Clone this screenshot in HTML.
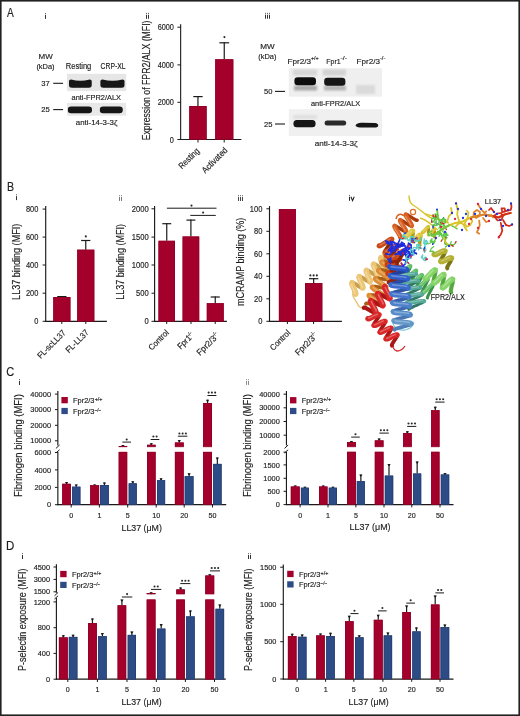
<!DOCTYPE html>
<html><head><meta charset="utf-8"><style>
html,body{margin:0;padding:0;background:#fff;}
svg{display:block;will-change:transform;}
text{font-family:"Liberation Sans",sans-serif;fill:#1e1e1e;stroke:#1e1e1e;stroke-width:0.16px;}
</style></head><body>
<svg width="520" height="716" viewBox="0 0 520 716">
<defs>
<filter id="blur1" x="-20%" y="-50%" width="140%" height="200%"><feGaussianBlur stdDeviation="0.7"/></filter>
<filter id="blur05" x="-5%" y="-5%" width="110%" height="110%"><feGaussianBlur stdDeviation="0.35"/></filter>
<filter id="blur2" x="-20%" y="-20%" width="140%" height="140%"><feGaussianBlur stdDeviation="1.2"/></filter>
</defs>
<rect width="520" height="716" fill="#fff"/>
<rect x="0.8" y="0.8" width="518.4" height="714.4" fill="none" stroke="#222" stroke-width="1.6"/>
<text x="6.90" y="16.70" font-size="12.2" textLength="6.80" lengthAdjust="spacingAndGlyphs">A</text>
<rect x="45" y="14.90" width="1.0" height="4.0" fill="#333"/>
<rect x="45" y="13.00" width="1.0" height="1.1" fill="#333" opacity="0.75"/>
<text x="38.60" y="59.10" font-size="7.8" textLength="14.20" lengthAdjust="spacingAndGlyphs">MW</text>
<text x="36.40" y="68.80" font-size="7.8" textLength="18.20" lengthAdjust="spacingAndGlyphs">(kDa)</text>
<text x="65.80" y="69.00" font-size="8.5" textLength="25.50" lengthAdjust="spacingAndGlyphs">Resting</text>
<text x="100.60" y="69.00" font-size="8.5" textLength="25.00" lengthAdjust="spacingAndGlyphs">CRP-XL</text>
<text x="41.20" y="86.00" font-size="7.4" textLength="8.50" lengthAdjust="spacingAndGlyphs">37</text>
<line x1="53.20" y1="83.30" x2="63.10" y2="83.30" stroke="#1a1a1a" stroke-width="1.1"/>
<text x="41.20" y="112.40" font-size="7.4" textLength="8.50" lengthAdjust="spacingAndGlyphs">25</text>
<line x1="53.20" y1="109.60" x2="63.10" y2="109.60" stroke="#1a1a1a" stroke-width="1.1"/>
<text x="71.50" y="99.90" font-size="7.8" textLength="49.50" lengthAdjust="spacingAndGlyphs">anti-FPR2/ALX</text>
<text x="75.80" y="124.70" font-size="7.8" textLength="41.60" lengthAdjust="spacingAndGlyphs">anti-14-3-3ζ</text>
<rect x="67.00" y="73.80" width="59.20" height="17.30" fill="#e6e6e6"/>
<rect x="67.00" y="102.80" width="59.20" height="12.90" fill="#e8e8e8"/>
<g filter="url(#blur1)">
<path d="M69.0 80.9 Q69.0 79.4 71.0 79.4 Q80.3 82.0 89.7 79.4 Q91.7 79.4 91.7 80.9 L91.7 85.3 Q91.7 87.8 88.7 87.8 L72.0 87.8 Q69.0 87.8 69.0 85.3 Z" fill="#141414"/>
<path d="M100.4 80.9 Q100.4 79.4 102.4 79.4 Q112.5 82.0 122.5 79.4 Q124.5 79.4 124.5 80.9 L124.5 85.3 Q124.5 87.8 121.5 87.8 L103.4 87.8 Q100.4 87.8 100.4 85.3 Z" fill="#141414"/>
<rect x="67.8" y="106.6" width="24.2" height="6.7" rx="3.3" fill="#121212"/>
<rect x="99.8" y="106.6" width="23.0" height="6.7" rx="3.3" fill="#121212"/>
</g>
<line x1="180.65" y1="24.30" x2="180.65" y2="140.00" stroke="#1a1a1a" stroke-width="1.1"/>
<line x1="180.15" y1="139.50" x2="241.40" y2="139.50" stroke="#1a1a1a" stroke-width="1.1"/>
<line x1="177.45" y1="27.20" x2="180.65" y2="27.20" stroke="#1a1a1a" stroke-width="1.0"/>
<line x1="177.45" y1="64.90" x2="180.65" y2="64.90" stroke="#1a1a1a" stroke-width="1.0"/>
<line x1="177.45" y1="102.30" x2="180.65" y2="102.30" stroke="#1a1a1a" stroke-width="1.0"/>
<line x1="177.45" y1="139.50" x2="180.65" y2="139.50" stroke="#1a1a1a" stroke-width="1.0"/>
<text x="173.95" y="30.20" font-size="8.51" text-anchor="end" textLength="16.32" lengthAdjust="spacingAndGlyphs">6000</text>
<text x="173.95" y="67.90" font-size="8.51" text-anchor="end" textLength="16.32" lengthAdjust="spacingAndGlyphs">4000</text>
<text x="173.95" y="105.30" font-size="8.51" text-anchor="end" textLength="16.32" lengthAdjust="spacingAndGlyphs">2000</text>
<text x="173.95" y="142.50" font-size="8.51" text-anchor="end" textLength="4.08" lengthAdjust="spacingAndGlyphs">0</text>
<line x1="197.95" y1="106.00" x2="197.95" y2="96.00" stroke="#1a1a1a" stroke-width="1.2"/>
<line x1="193.28" y1="96.60" x2="202.62" y2="96.60" stroke="#1a1a1a" stroke-width="1.2"/>
<rect x="189.30" y="106.00" width="17.30" height="33.50" fill="#A3002C"/>
<rect x="189.65" y="106.35" width="16.60" height="33.15" fill="none" stroke="#8f0026" stroke-width="0.7"/>
<line x1="224.25" y1="59.30" x2="224.25" y2="42.20" stroke="#1a1a1a" stroke-width="1.2"/>
<line x1="219.36" y1="42.80" x2="229.14" y2="42.80" stroke="#1a1a1a" stroke-width="1.2"/>
<rect x="215.20" y="59.30" width="18.10" height="80.20" fill="#A3002C"/>
<rect x="215.55" y="59.65" width="17.40" height="79.85" fill="none" stroke="#8f0026" stroke-width="0.7"/>
<line x1="198.00" y1="139.50" x2="198.00" y2="142.50" stroke="#1a1a1a" stroke-width="1.0"/>
<line x1="224.20" y1="139.50" x2="224.20" y2="142.50" stroke="#1a1a1a" stroke-width="1.0"/>
<circle cx="224.40" cy="37.10" r="1.05" fill="#2a2a2a"/>
<text x="150.04" y="80.40" font-size="10.3" text-anchor="middle" textLength="119.80" lengthAdjust="spacingAndGlyphs" transform="rotate(-90 150.04 80.40)">Expression of FPR2/ALX (MFI)</text>
<rect x="146" y="14.80" width="1.0" height="4.0" fill="#333"/>
<rect x="146" y="12.90" width="1.0" height="1.1" fill="#333" opacity="0.75"/>
<rect x="148" y="14.80" width="1.0" height="4.0" fill="#333"/>
<rect x="148" y="12.90" width="1.0" height="1.1" fill="#333" opacity="0.75"/>
<text x="200.00" y="151.50" font-size="8.8" text-anchor="end" textLength="25.50" lengthAdjust="spacingAndGlyphs" transform="rotate(-45 200.00 151.50)">Resting</text>
<text x="228.00" y="151.00" font-size="8.8" text-anchor="end" textLength="32.00" lengthAdjust="spacingAndGlyphs" transform="rotate(-45 228.00 151.00)">Activated</text>
<rect x="265" y="14.70" width="1.0" height="4.0" fill="#333"/>
<rect x="265" y="12.80" width="1.0" height="1.1" fill="#333" opacity="0.75"/>
<rect x="267" y="14.70" width="1.0" height="4.0" fill="#333"/>
<rect x="267" y="12.80" width="1.0" height="1.1" fill="#333" opacity="0.75"/>
<rect x="269" y="14.70" width="1.0" height="4.0" fill="#333"/>
<rect x="269" y="12.80" width="1.0" height="1.1" fill="#333" opacity="0.75"/>
<text x="260.20" y="49.30" font-size="8.0" textLength="14.40" lengthAdjust="spacingAndGlyphs">MW</text>
<text x="258.20" y="59.20" font-size="8.0" textLength="18.20" lengthAdjust="spacingAndGlyphs">(kDa)</text>
<text x="287.40" y="63.70" font-size="8.1" textLength="23.60" lengthAdjust="spacingAndGlyphs">Fpr2/3</text>
<text x="310.90" y="60.30" font-size="5.2" textLength="7.80" lengthAdjust="spacingAndGlyphs">+/+</text>
<text x="326.30" y="63.70" font-size="8.1" textLength="14.40" lengthAdjust="spacingAndGlyphs">Fpr1</text>
<text x="340.60" y="60.30" font-size="5.2" textLength="6.30" lengthAdjust="spacingAndGlyphs">-/-</text>
<text x="356.60" y="63.70" font-size="8.1" textLength="23.30" lengthAdjust="spacingAndGlyphs">Fpr2/3</text>
<text x="379.90" y="60.30" font-size="5.2" textLength="5.40" lengthAdjust="spacingAndGlyphs">-/-</text>
<text x="264.00" y="94.10" font-size="7.6" textLength="8.40" lengthAdjust="spacingAndGlyphs">50</text>
<line x1="275.00" y1="91.40" x2="285.00" y2="91.40" stroke="#1a1a1a" stroke-width="1.1"/>
<text x="264.00" y="126.70" font-size="7.6" textLength="8.40" lengthAdjust="spacingAndGlyphs">25</text>
<line x1="275.00" y1="124.00" x2="285.00" y2="124.00" stroke="#1a1a1a" stroke-width="1.1"/>
<text x="311.00" y="106.00" font-size="7.8" textLength="49.20" lengthAdjust="spacingAndGlyphs">anti-FPR2/ALX</text>
<text x="314.70" y="145.60" font-size="7.8" textLength="42.90" lengthAdjust="spacingAndGlyphs">anti-14-3-3ζ</text>
<rect x="288.80" y="68.20" width="93.30" height="28.50" fill="#efefef"/>
<rect x="288.80" y="109.20" width="93.30" height="26.90" fill="#f0f0f0"/>
<g filter="url(#blur2)">
<rect x="293" y="69.5" width="24" height="6" fill="#d6d6d6"/>
<rect x="323" y="69.5" width="23" height="6" fill="#d2d2d2"/>
<rect x="294" y="85.5" width="23" height="5" fill="#a8a8a8"/>
<rect x="324" y="85.5" width="22" height="5" fill="#b4b4b4"/>
<rect x="356" y="85" width="19" height="9" fill="#dadada"/>
<rect x="293" y="115" width="24" height="4" fill="#e0e0e0"/>
</g>
<g filter="url(#blur1)">
<rect x="294.4" y="77.3" width="21.6" height="8.0" rx="3.2" fill="#111"/>
<rect x="324.2" y="77.7" width="21.2" height="8.0" rx="3.2" fill="#141414"/>
<rect x="293.4" y="120.0" width="22.2" height="7.3" rx="3.5" fill="#121212"/>
<rect x="324.6" y="120.4" width="21.6" height="5.0" rx="2.5" fill="#2a2a2a"/>
<path d="M355.5 125.5 Q357 122.6 362 122.8 L375 123.0 Q378.3 123.5 378.2 125.5 Q378 127.8 374 127.6 L360 127.4 Q356 127.3 355.5 125.5 Z" fill="#141414"/>
</g>
<text x="7.00" y="191.10" font-size="12.1" textLength="7.10" lengthAdjust="spacingAndGlyphs">B</text>
<rect x="16" y="196.10" width="1.0" height="4.0" fill="#333"/>
<rect x="16" y="194.20" width="1.0" height="1.1" fill="#333" opacity="0.75"/>
<line x1="45.70" y1="206.00" x2="45.70" y2="321.80" stroke="#1a1a1a" stroke-width="1.15"/>
<line x1="45.20" y1="321.30" x2="106.90" y2="321.30" stroke="#1a1a1a" stroke-width="1.25"/>
<line x1="42.60" y1="209.10" x2="45.70" y2="209.10" stroke="#1a1a1a" stroke-width="1.0"/>
<line x1="42.60" y1="237.10" x2="45.70" y2="237.10" stroke="#1a1a1a" stroke-width="1.0"/>
<line x1="42.60" y1="265.00" x2="45.70" y2="265.00" stroke="#1a1a1a" stroke-width="1.0"/>
<line x1="42.60" y1="293.20" x2="45.70" y2="293.20" stroke="#1a1a1a" stroke-width="1.0"/>
<line x1="42.60" y1="321.30" x2="45.70" y2="321.30" stroke="#1a1a1a" stroke-width="1.0"/>
<text x="38.35" y="212.10" font-size="8.51" text-anchor="end" textLength="12.39" lengthAdjust="spacingAndGlyphs">800</text>
<text x="38.35" y="240.10" font-size="8.51" text-anchor="end" textLength="12.39" lengthAdjust="spacingAndGlyphs">600</text>
<text x="38.35" y="268.00" font-size="8.51" text-anchor="end" textLength="12.39" lengthAdjust="spacingAndGlyphs">400</text>
<text x="38.35" y="296.20" font-size="8.51" text-anchor="end" textLength="12.39" lengthAdjust="spacingAndGlyphs">200</text>
<text x="38.35" y="324.30" font-size="8.51" text-anchor="end" textLength="4.13" lengthAdjust="spacingAndGlyphs">0</text>
<line x1="61.85" y1="297.00" x2="61.85" y2="296.00" stroke="#1a1a1a" stroke-width="1.2"/>
<line x1="57.23" y1="296.60" x2="66.47" y2="296.60" stroke="#1a1a1a" stroke-width="1.2"/>
<rect x="53.30" y="297.00" width="17.10" height="24.30" fill="#A3002C"/>
<rect x="53.65" y="297.35" width="16.40" height="23.95" fill="none" stroke="#8f0026" stroke-width="0.7"/>
<line x1="85.75" y1="249.70" x2="85.75" y2="239.90" stroke="#1a1a1a" stroke-width="1.2"/>
<line x1="81.13" y1="240.50" x2="90.37" y2="240.50" stroke="#1a1a1a" stroke-width="1.2"/>
<rect x="77.20" y="249.70" width="17.10" height="71.60" fill="#A3002C"/>
<rect x="77.55" y="250.05" width="16.40" height="71.25" fill="none" stroke="#8f0026" stroke-width="0.7"/>
<circle cx="85.80" cy="236.40" r="1.05" fill="#2a2a2a"/>
<line x1="61.80" y1="321.30" x2="61.80" y2="324.00" stroke="#1a1a1a" stroke-width="1.0"/>
<line x1="85.80" y1="321.30" x2="85.80" y2="324.00" stroke="#1a1a1a" stroke-width="1.0"/>
<text x="19.94" y="261.80" font-size="10.3" text-anchor="middle" textLength="76.20" lengthAdjust="spacingAndGlyphs" transform="rotate(-90 19.94 261.80)">LL37 binding (MFI)</text>
<text x="66.20" y="333.50" font-size="8.6" text-anchor="end" textLength="36.00" lengthAdjust="spacingAndGlyphs" transform="rotate(-45 66.20 333.50)">FL-scLL37</text>
<text x="89.40" y="333.00" font-size="8.6" text-anchor="end" textLength="29.00" lengthAdjust="spacingAndGlyphs" transform="rotate(-45 89.40 333.00)">FL-LL37</text>
<rect x="119" y="196.90" width="1.0" height="4.0" fill="#777"/>
<rect x="119" y="195.00" width="1.0" height="1.1" fill="#777" opacity="0.75"/>
<rect x="121" y="196.90" width="1.0" height="4.0" fill="#777"/>
<rect x="121" y="195.00" width="1.0" height="1.1" fill="#777" opacity="0.75"/>
<line x1="154.60" y1="206.10" x2="154.60" y2="321.80" stroke="#1a1a1a" stroke-width="1.15"/>
<line x1="154.10" y1="321.30" x2="226.90" y2="321.30" stroke="#1a1a1a" stroke-width="1.25"/>
<line x1="151.50" y1="208.80" x2="154.60" y2="208.80" stroke="#1a1a1a" stroke-width="1.0"/>
<line x1="151.50" y1="237.10" x2="154.60" y2="237.10" stroke="#1a1a1a" stroke-width="1.0"/>
<line x1="151.50" y1="265.00" x2="154.60" y2="265.00" stroke="#1a1a1a" stroke-width="1.0"/>
<line x1="151.50" y1="293.20" x2="154.60" y2="293.20" stroke="#1a1a1a" stroke-width="1.0"/>
<line x1="151.50" y1="321.30" x2="154.60" y2="321.30" stroke="#1a1a1a" stroke-width="1.0"/>
<text x="148.75" y="211.75" font-size="8.37" text-anchor="end" textLength="16.88" lengthAdjust="spacingAndGlyphs">2000</text>
<text x="148.75" y="240.05" font-size="8.37" text-anchor="end" textLength="16.88" lengthAdjust="spacingAndGlyphs">1500</text>
<text x="148.75" y="267.95" font-size="8.37" text-anchor="end" textLength="16.88" lengthAdjust="spacingAndGlyphs">1000</text>
<text x="148.75" y="296.15" font-size="8.37" text-anchor="end" textLength="12.66" lengthAdjust="spacingAndGlyphs">500</text>
<text x="148.75" y="324.25" font-size="8.37" text-anchor="end" textLength="4.22" lengthAdjust="spacingAndGlyphs">0</text>
<line x1="166.75" y1="240.80" x2="166.75" y2="223.10" stroke="#1a1a1a" stroke-width="1.2"/>
<line x1="162.29" y1="223.70" x2="171.21" y2="223.70" stroke="#1a1a1a" stroke-width="1.2"/>
<rect x="158.50" y="240.80" width="16.50" height="80.50" fill="#A3002C"/>
<rect x="158.85" y="241.15" width="15.80" height="80.15" fill="none" stroke="#8f0026" stroke-width="0.7"/>
<line x1="190.90" y1="236.50" x2="190.90" y2="219.50" stroke="#1a1a1a" stroke-width="1.2"/>
<line x1="186.42" y1="220.10" x2="195.38" y2="220.10" stroke="#1a1a1a" stroke-width="1.2"/>
<rect x="182.60" y="236.50" width="16.60" height="84.80" fill="#A3002C"/>
<rect x="182.95" y="236.85" width="15.90" height="84.45" fill="none" stroke="#8f0026" stroke-width="0.7"/>
<line x1="215.25" y1="303.20" x2="215.25" y2="296.40" stroke="#1a1a1a" stroke-width="1.2"/>
<line x1="210.69" y1="297.00" x2="219.81" y2="297.00" stroke="#1a1a1a" stroke-width="1.2"/>
<rect x="206.80" y="303.20" width="16.90" height="18.10" fill="#A3002C"/>
<rect x="207.15" y="303.55" width="16.20" height="17.75" fill="none" stroke="#8f0026" stroke-width="0.7"/>
<line x1="166.90" y1="208.20" x2="216.50" y2="208.20" stroke="#1a1a1a" stroke-width="1.0"/>
<circle cx="191.50" cy="205.60" r="1.05" fill="#2a2a2a"/>
<line x1="190.30" y1="215.40" x2="215.80" y2="215.40" stroke="#1a1a1a" stroke-width="1.0"/>
<circle cx="203.10" cy="212.60" r="1.05" fill="#2a2a2a"/>
<line x1="166.70" y1="321.30" x2="166.70" y2="324.00" stroke="#1a1a1a" stroke-width="1.0"/>
<line x1="191.00" y1="321.30" x2="191.00" y2="324.00" stroke="#1a1a1a" stroke-width="1.0"/>
<line x1="215.20" y1="321.30" x2="215.20" y2="324.00" stroke="#1a1a1a" stroke-width="1.0"/>
<text x="123.94" y="261.90" font-size="10.3" text-anchor="middle" textLength="75.80" lengthAdjust="spacingAndGlyphs" transform="rotate(-90 123.94 261.90)">LL37 binding (MFI)</text>
<text x="169.40" y="333.20" font-size="8.4" text-anchor="end" textLength="25.00" lengthAdjust="spacingAndGlyphs" transform="rotate(-45 169.40 333.20)">Control</text>
<text x="192.00" y="338.50" font-size="8.6" text-anchor="end" textLength="16.00" lengthAdjust="spacingAndGlyphs" transform="rotate(-45 192.00 338.50)">Fpr1</text>
<text x="192.20" y="333.60" font-size="5.2" text-anchor="end" transform="rotate(-45 192.20 333.60)">-/-</text>
<text x="217.00" y="339.00" font-size="8.6" text-anchor="end" textLength="24.00" lengthAdjust="spacingAndGlyphs" transform="rotate(-45 217.00 339.00)">Fpr2/3</text>
<text x="217.20" y="333.60" font-size="5.2" text-anchor="end" transform="rotate(-45 217.20 333.60)">-/-</text>
<rect x="238" y="197.00" width="1.0" height="4.0" fill="#444"/>
<rect x="238" y="195.10" width="1.0" height="1.1" fill="#444" opacity="0.75"/>
<rect x="240" y="197.00" width="1.0" height="4.0" fill="#444"/>
<rect x="240" y="195.10" width="1.0" height="1.1" fill="#444" opacity="0.75"/>
<rect x="242" y="197.00" width="1.0" height="4.0" fill="#444"/>
<rect x="242" y="195.10" width="1.0" height="1.1" fill="#444" opacity="0.75"/>
<line x1="269.50" y1="206.10" x2="269.50" y2="321.80" stroke="#1a1a1a" stroke-width="1.15"/>
<line x1="269.00" y1="321.30" x2="341.90" y2="321.30" stroke="#1a1a1a" stroke-width="1.25"/>
<line x1="266.40" y1="208.80" x2="269.50" y2="208.80" stroke="#1a1a1a" stroke-width="1.0"/>
<line x1="266.40" y1="231.30" x2="269.50" y2="231.30" stroke="#1a1a1a" stroke-width="1.0"/>
<line x1="266.40" y1="253.80" x2="269.50" y2="253.80" stroke="#1a1a1a" stroke-width="1.0"/>
<line x1="266.40" y1="276.30" x2="269.50" y2="276.30" stroke="#1a1a1a" stroke-width="1.0"/>
<line x1="266.40" y1="298.80" x2="269.50" y2="298.80" stroke="#1a1a1a" stroke-width="1.0"/>
<line x1="266.40" y1="321.30" x2="269.50" y2="321.30" stroke="#1a1a1a" stroke-width="1.0"/>
<text x="262.35" y="211.75" font-size="8.37" text-anchor="end" textLength="12.54" lengthAdjust="spacingAndGlyphs">100</text>
<text x="262.35" y="234.25" font-size="8.37" text-anchor="end" textLength="8.36" lengthAdjust="spacingAndGlyphs">80</text>
<text x="262.35" y="256.75" font-size="8.37" text-anchor="end" textLength="8.36" lengthAdjust="spacingAndGlyphs">60</text>
<text x="262.35" y="279.25" font-size="8.37" text-anchor="end" textLength="8.36" lengthAdjust="spacingAndGlyphs">40</text>
<text x="262.35" y="301.75" font-size="8.37" text-anchor="end" textLength="8.36" lengthAdjust="spacingAndGlyphs">20</text>
<text x="262.35" y="324.25" font-size="8.37" text-anchor="end" textLength="4.18" lengthAdjust="spacingAndGlyphs">0</text>
<rect x="278.90" y="209.10" width="17.00" height="112.20" fill="#A3002C"/>
<rect x="279.25" y="209.45" width="16.30" height="111.85" fill="none" stroke="#8f0026" stroke-width="0.7"/>
<line x1="313.65" y1="283.10" x2="313.65" y2="278.10" stroke="#1a1a1a" stroke-width="1.2"/>
<line x1="308.98" y1="278.70" x2="318.32" y2="278.70" stroke="#1a1a1a" stroke-width="1.2"/>
<rect x="305.00" y="283.10" width="17.30" height="38.20" fill="#A3002C"/>
<rect x="305.35" y="283.45" width="16.60" height="37.85" fill="none" stroke="#8f0026" stroke-width="0.7"/>
<circle cx="310.35" cy="275.40" r="1.05" fill="#2a2a2a"/>
<circle cx="313.60" cy="275.40" r="1.05" fill="#2a2a2a"/>
<circle cx="316.85" cy="275.40" r="1.05" fill="#2a2a2a"/>
<line x1="287.40" y1="321.30" x2="287.40" y2="324.00" stroke="#1a1a1a" stroke-width="1.0"/>
<line x1="313.60" y1="321.30" x2="313.60" y2="324.00" stroke="#1a1a1a" stroke-width="1.0"/>
<text x="243.84" y="261.85" font-size="10.3" text-anchor="middle" textLength="88.30" lengthAdjust="spacingAndGlyphs" transform="rotate(-90 243.84 261.85)">mCRAMP binding (%)</text>
<text x="290.90" y="333.40" font-size="8.4" text-anchor="end" textLength="25.00" lengthAdjust="spacingAndGlyphs" transform="rotate(-45 290.90 333.40)">Control</text>
<text x="315.50" y="339.00" font-size="8.6" text-anchor="end" textLength="24.00" lengthAdjust="spacingAndGlyphs" transform="rotate(-45 315.50 339.00)">Fpr2/3</text>
<text x="315.60" y="333.60" font-size="5.2" text-anchor="end" transform="rotate(-45 315.60 333.60)">-/-</text>
<rect x="349" y="196.80" width="1.0" height="4.0" fill="#222"/>
<rect x="349" y="194.90" width="1.0" height="1.1" fill="#222" opacity="0.75"/>
<path d="M350.9 196.7 L352.55 200.6 L354.2 196.7" fill="none" stroke="#222" stroke-width="1.1"/>
<text x="6.20" y="375.60" font-size="12.6" textLength="8.00" lengthAdjust="spacingAndGlyphs">C</text>
<rect x="19" y="381.00" width="1.0" height="4.0" fill="#333"/>
<rect x="19" y="379.10" width="1.0" height="1.1" fill="#333" opacity="0.75"/>
<line x1="57.85" y1="391.00" x2="57.85" y2="445.40" stroke="#1a1a1a" stroke-width="1.15"/>
<line x1="59.55" y1="445.00" x2="55.95" y2="448.40" stroke="#1a1a1a" stroke-width="1.0"/>
<line x1="59.55" y1="449.80" x2="55.95" y2="452.90" stroke="#1a1a1a" stroke-width="1.0"/>
<line x1="57.85" y1="451.90" x2="57.85" y2="505.20" stroke="#1a1a1a" stroke-width="1.15"/>
<line x1="57.35" y1="504.70" x2="226.20" y2="504.70" stroke="#1a1a1a" stroke-width="1.25"/>
<line x1="54.95" y1="394.10" x2="57.85" y2="394.10" stroke="#1a1a1a" stroke-width="1.0"/>
<line x1="54.95" y1="409.60" x2="57.85" y2="409.60" stroke="#1a1a1a" stroke-width="1.0"/>
<line x1="54.95" y1="425.30" x2="57.85" y2="425.30" stroke="#1a1a1a" stroke-width="1.0"/>
<line x1="54.95" y1="440.80" x2="57.85" y2="440.80" stroke="#1a1a1a" stroke-width="1.0"/>
<line x1="54.95" y1="452.50" x2="57.85" y2="452.50" stroke="#1a1a1a" stroke-width="1.0"/>
<line x1="54.95" y1="469.90" x2="57.85" y2="469.90" stroke="#1a1a1a" stroke-width="1.0"/>
<line x1="54.95" y1="487.40" x2="57.85" y2="487.40" stroke="#1a1a1a" stroke-width="1.0"/>
<line x1="54.95" y1="504.70" x2="57.85" y2="504.70" stroke="#1a1a1a" stroke-width="1.0"/>
<text x="51.05" y="396.75" font-size="7.52" text-anchor="end" textLength="20.70" lengthAdjust="spacingAndGlyphs">40000</text>
<text x="51.05" y="412.25" font-size="7.52" text-anchor="end" textLength="20.70" lengthAdjust="spacingAndGlyphs">30000</text>
<text x="51.05" y="427.95" font-size="7.52" text-anchor="end" textLength="20.70" lengthAdjust="spacingAndGlyphs">20000</text>
<text x="51.05" y="443.45" font-size="7.52" text-anchor="end" textLength="20.70" lengthAdjust="spacingAndGlyphs">10000</text>
<text x="51.05" y="455.15" font-size="7.52" text-anchor="end" textLength="16.56" lengthAdjust="spacingAndGlyphs">6000</text>
<text x="51.05" y="472.55" font-size="7.52" text-anchor="end" textLength="16.56" lengthAdjust="spacingAndGlyphs">4000</text>
<text x="51.05" y="490.05" font-size="7.52" text-anchor="end" textLength="16.56" lengthAdjust="spacingAndGlyphs">2000</text>
<text x="51.05" y="507.35" font-size="7.52" text-anchor="end" textLength="4.14" lengthAdjust="spacingAndGlyphs">0</text>
<rect x="61.40" y="397.00" width="6.40" height="6.30" fill="#A3002C"/>
<rect x="61.40" y="407.90" width="6.40" height="6.20" fill="#2D4C85"/>
<text x="73.10" y="403.30" font-size="7.5" textLength="21.40" lengthAdjust="spacingAndGlyphs">Fpr2/3</text>
<text x="94.70" y="400.80" font-size="4.9" textLength="7.80" lengthAdjust="spacingAndGlyphs">+/+</text>
<text x="73.10" y="414.00" font-size="7.5" textLength="21.40" lengthAdjust="spacingAndGlyphs">Fpr2/3</text>
<text x="94.70" y="411.90" font-size="4.9" textLength="6.60" lengthAdjust="spacingAndGlyphs">−/−</text>
<line x1="66.55" y1="483.80" x2="66.55" y2="482.10" stroke="#1a1a1a" stroke-width="1.2"/>
<path d="M64.95 482.10 L68.15 482.10 L67.05 484.10 L66.05 484.10 Z" fill="#1a1a1a"/>
<rect x="62.20" y="483.80" width="8.70" height="20.90" fill="#A3002C"/>
<rect x="62.55" y="484.15" width="8.00" height="20.55" fill="none" stroke="#8f0026" stroke-width="0.7"/>
<line x1="76.25" y1="486.70" x2="76.25" y2="484.40" stroke="#1a1a1a" stroke-width="1.2"/>
<path d="M74.65 484.40 L77.85 484.40 L76.75 486.40 L75.75 486.40 Z" fill="#1a1a1a"/>
<rect x="72.10" y="486.70" width="8.30" height="18.00" fill="#2D4C85"/>
<rect x="72.45" y="487.05" width="7.60" height="17.65" fill="none" stroke="#233f73" stroke-width="0.7"/>
<line x1="94.65" y1="485.20" x2="94.65" y2="484.40" stroke="#1a1a1a" stroke-width="1.2"/>
<path d="M93.05 484.40 L96.25 484.40 L95.15 486.40 L94.15 486.40 Z" fill="#1a1a1a"/>
<rect x="90.20" y="485.20" width="8.90" height="19.50" fill="#A3002C"/>
<rect x="90.55" y="485.55" width="8.20" height="19.15" fill="none" stroke="#8f0026" stroke-width="0.7"/>
<line x1="104.45" y1="485.00" x2="104.45" y2="482.50" stroke="#1a1a1a" stroke-width="1.2"/>
<path d="M102.85 482.50 L106.05 482.50 L104.95 484.50 L103.95 484.50 Z" fill="#1a1a1a"/>
<rect x="100.00" y="485.00" width="8.90" height="19.70" fill="#2D4C85"/>
<rect x="100.35" y="485.35" width="8.20" height="19.35" fill="none" stroke="#233f73" stroke-width="0.7"/>
<rect x="118.70" y="451.90" width="8.50" height="52.80" fill="#A3002C"/>
<rect x="119.05" y="452.25" width="7.80" height="52.45" fill="none" stroke="#8f0026" stroke-width="0.7"/>
<line x1="122.95" y1="446.00" x2="122.95" y2="445.00" stroke="#1a1a1a" stroke-width="1.2"/>
<path d="M121.35 445.00 L124.55 445.00 L123.45 447.00 L122.45 447.00 Z" fill="#1a1a1a"/>
<rect x="118.70" y="446.00" width="8.50" height="0.80" fill="#A3002C"/>
<rect x="119.05" y="446.35" width="7.80" height="0.45" fill="none" stroke="#8f0026" stroke-width="0.7"/>
<line x1="132.75" y1="483.30" x2="132.75" y2="481.30" stroke="#1a1a1a" stroke-width="1.2"/>
<path d="M131.15 481.30 L134.35 481.30 L133.25 483.30 L132.25 483.30 Z" fill="#1a1a1a"/>
<rect x="128.70" y="483.30" width="8.10" height="21.40" fill="#2D4C85"/>
<rect x="129.05" y="483.65" width="7.40" height="21.05" fill="none" stroke="#233f73" stroke-width="0.7"/>
<rect x="147.00" y="451.90" width="8.60" height="52.80" fill="#A3002C"/>
<rect x="147.35" y="452.25" width="7.90" height="52.45" fill="none" stroke="#8f0026" stroke-width="0.7"/>
<line x1="151.30" y1="444.80" x2="151.30" y2="443.30" stroke="#1a1a1a" stroke-width="1.2"/>
<path d="M149.70 443.30 L152.90 443.30 L151.80 445.30 L150.80 445.30 Z" fill="#1a1a1a"/>
<rect x="147.00" y="444.80" width="8.60" height="2.00" fill="#A3002C"/>
<rect x="147.35" y="445.15" width="7.90" height="1.65" fill="none" stroke="#8f0026" stroke-width="0.7"/>
<line x1="161.05" y1="480.20" x2="161.05" y2="478.20" stroke="#1a1a1a" stroke-width="1.2"/>
<path d="M159.45 478.20 L162.65 478.20 L161.55 480.20 L160.55 480.20 Z" fill="#1a1a1a"/>
<rect x="157.00" y="480.20" width="8.10" height="24.50" fill="#2D4C85"/>
<rect x="157.35" y="480.55" width="7.40" height="24.15" fill="none" stroke="#233f73" stroke-width="0.7"/>
<rect x="174.90" y="451.90" width="8.80" height="52.80" fill="#A3002C"/>
<rect x="175.25" y="452.25" width="8.10" height="52.45" fill="none" stroke="#8f0026" stroke-width="0.7"/>
<line x1="179.30" y1="442.50" x2="179.30" y2="440.00" stroke="#1a1a1a" stroke-width="1.2"/>
<path d="M177.70 440.00 L180.90 440.00 L179.80 442.00 L178.80 442.00 Z" fill="#1a1a1a"/>
<rect x="174.90" y="442.50" width="8.80" height="4.30" fill="#A3002C"/>
<rect x="175.25" y="442.85" width="8.10" height="3.95" fill="none" stroke="#8f0026" stroke-width="0.7"/>
<line x1="189.10" y1="476.20" x2="189.10" y2="473.20" stroke="#1a1a1a" stroke-width="1.2"/>
<path d="M187.50 473.20 L190.70 473.20 L189.60 475.20 L188.60 475.20 Z" fill="#1a1a1a"/>
<rect x="184.70" y="476.20" width="8.80" height="28.50" fill="#2D4C85"/>
<rect x="185.05" y="476.55" width="8.10" height="28.15" fill="none" stroke="#233f73" stroke-width="0.7"/>
<rect x="203.10" y="451.90" width="8.90" height="52.80" fill="#A3002C"/>
<rect x="203.45" y="452.25" width="8.20" height="52.45" fill="none" stroke="#8f0026" stroke-width="0.7"/>
<line x1="207.55" y1="403.00" x2="207.55" y2="399.70" stroke="#1a1a1a" stroke-width="1.2"/>
<path d="M205.95 399.70 L209.15 399.70 L208.05 401.70 L207.05 401.70 Z" fill="#1a1a1a"/>
<rect x="203.10" y="403.00" width="8.90" height="43.80" fill="#A3002C"/>
<rect x="203.45" y="403.35" width="8.20" height="43.45" fill="none" stroke="#8f0026" stroke-width="0.7"/>
<line x1="217.35" y1="463.90" x2="217.35" y2="457.60" stroke="#1a1a1a" stroke-width="1.2"/>
<path d="M215.75 457.60 L218.95 457.60 L217.85 459.60 L216.85 459.60 Z" fill="#1a1a1a"/>
<rect x="213.10" y="463.90" width="8.50" height="40.80" fill="#2D4C85"/>
<rect x="213.45" y="464.25" width="7.80" height="40.45" fill="none" stroke="#233f73" stroke-width="0.7"/>
<line x1="122.40" y1="442.10" x2="131.00" y2="442.10" stroke="#1a1a1a" stroke-width="1.0"/>
<circle cx="126.70" cy="439.50" r="1.05" fill="#2a2a2a"/>
<line x1="150.70" y1="439.50" x2="159.30" y2="439.50" stroke="#1a1a1a" stroke-width="1.0"/>
<circle cx="153.38" cy="436.50" r="1.05" fill="#2a2a2a"/>
<circle cx="156.62" cy="436.50" r="1.05" fill="#2a2a2a"/>
<line x1="177.90" y1="436.20" x2="187.40" y2="436.20" stroke="#1a1a1a" stroke-width="1.0"/>
<circle cx="179.40" cy="433.50" r="1.05" fill="#2a2a2a"/>
<circle cx="182.65" cy="433.50" r="1.05" fill="#2a2a2a"/>
<circle cx="185.90" cy="433.50" r="1.05" fill="#2a2a2a"/>
<line x1="207.40" y1="395.50" x2="216.40" y2="395.50" stroke="#1a1a1a" stroke-width="1.0"/>
<circle cx="208.65" cy="392.60" r="1.05" fill="#2a2a2a"/>
<circle cx="211.90" cy="392.60" r="1.05" fill="#2a2a2a"/>
<circle cx="215.15" cy="392.60" r="1.05" fill="#2a2a2a"/>
<line x1="71.20" y1="504.70" x2="71.20" y2="507.50" stroke="#1a1a1a" stroke-width="1.0"/>
<line x1="99.40" y1="504.70" x2="99.40" y2="507.50" stroke="#1a1a1a" stroke-width="1.0"/>
<line x1="127.70" y1="504.70" x2="127.70" y2="507.50" stroke="#1a1a1a" stroke-width="1.0"/>
<line x1="156.20" y1="504.70" x2="156.20" y2="507.50" stroke="#1a1a1a" stroke-width="1.0"/>
<line x1="184.20" y1="504.70" x2="184.20" y2="507.50" stroke="#1a1a1a" stroke-width="1.0"/>
<line x1="212.50" y1="504.70" x2="212.50" y2="507.50" stroke="#1a1a1a" stroke-width="1.0"/>
<text x="71.20" y="518.30" font-size="7.09" text-anchor="middle" textLength="3.95" lengthAdjust="spacingAndGlyphs">0</text>
<text x="99.40" y="518.30" font-size="7.09" text-anchor="middle" textLength="3.95" lengthAdjust="spacingAndGlyphs">1</text>
<text x="127.70" y="518.30" font-size="7.09" text-anchor="middle" textLength="3.95" lengthAdjust="spacingAndGlyphs">5</text>
<text x="156.20" y="518.30" font-size="7.09" text-anchor="middle" textLength="7.90" lengthAdjust="spacingAndGlyphs">10</text>
<text x="184.20" y="518.30" font-size="7.09" text-anchor="middle" textLength="7.90" lengthAdjust="spacingAndGlyphs">20</text>
<text x="212.50" y="518.30" font-size="7.09" text-anchor="middle" textLength="7.90" lengthAdjust="spacingAndGlyphs">50</text>
<text x="121.50" y="530.60" font-size="9.9" textLength="40.40" lengthAdjust="spacingAndGlyphs">LL37 (μM)</text>
<text x="22.14" y="445.60" font-size="10.3" text-anchor="middle" textLength="102.80" lengthAdjust="spacingAndGlyphs" transform="rotate(-90 22.14 445.60)">Fibrinogen binding (MFI)</text>
<rect x="246" y="380.90" width="1.0" height="4.0" fill="#888"/>
<rect x="246" y="379.00" width="1.0" height="1.1" fill="#888" opacity="0.75"/>
<rect x="248" y="380.90" width="1.0" height="4.0" fill="#888"/>
<rect x="248" y="379.00" width="1.0" height="1.1" fill="#888" opacity="0.75"/>
<line x1="286.45" y1="391.00" x2="286.45" y2="445.40" stroke="#1a1a1a" stroke-width="1.15"/>
<line x1="288.15" y1="445.00" x2="284.55" y2="448.40" stroke="#1a1a1a" stroke-width="1.0"/>
<line x1="288.15" y1="449.80" x2="284.55" y2="452.90" stroke="#1a1a1a" stroke-width="1.0"/>
<line x1="286.45" y1="451.90" x2="286.45" y2="505.10" stroke="#1a1a1a" stroke-width="1.15"/>
<line x1="285.95" y1="504.60" x2="453.50" y2="504.60" stroke="#1a1a1a" stroke-width="1.25"/>
<line x1="283.55" y1="394.20" x2="286.45" y2="394.20" stroke="#1a1a1a" stroke-width="1.0"/>
<line x1="283.55" y1="407.80" x2="286.45" y2="407.80" stroke="#1a1a1a" stroke-width="1.0"/>
<line x1="283.55" y1="421.50" x2="286.45" y2="421.50" stroke="#1a1a1a" stroke-width="1.0"/>
<line x1="283.55" y1="435.20" x2="286.45" y2="435.20" stroke="#1a1a1a" stroke-width="1.0"/>
<line x1="283.55" y1="452.20" x2="286.45" y2="452.20" stroke="#1a1a1a" stroke-width="1.0"/>
<line x1="283.55" y1="464.90" x2="286.45" y2="464.90" stroke="#1a1a1a" stroke-width="1.0"/>
<line x1="283.55" y1="478.30" x2="286.45" y2="478.30" stroke="#1a1a1a" stroke-width="1.0"/>
<line x1="283.55" y1="491.30" x2="286.45" y2="491.30" stroke="#1a1a1a" stroke-width="1.0"/>
<line x1="283.55" y1="504.60" x2="286.45" y2="504.60" stroke="#1a1a1a" stroke-width="1.0"/>
<text x="279.75" y="396.85" font-size="7.52" text-anchor="end" textLength="20.50" lengthAdjust="spacingAndGlyphs">40000</text>
<text x="279.75" y="410.45" font-size="7.52" text-anchor="end" textLength="20.50" lengthAdjust="spacingAndGlyphs">30000</text>
<text x="279.75" y="424.15" font-size="7.52" text-anchor="end" textLength="20.50" lengthAdjust="spacingAndGlyphs">20000</text>
<text x="279.75" y="437.85" font-size="7.52" text-anchor="end" textLength="20.50" lengthAdjust="spacingAndGlyphs">10000</text>
<text x="279.75" y="454.85" font-size="7.52" text-anchor="end" textLength="16.40" lengthAdjust="spacingAndGlyphs">2000</text>
<text x="279.75" y="467.55" font-size="7.52" text-anchor="end" textLength="16.40" lengthAdjust="spacingAndGlyphs">1500</text>
<text x="279.75" y="480.95" font-size="7.52" text-anchor="end" textLength="16.40" lengthAdjust="spacingAndGlyphs">1000</text>
<text x="279.75" y="493.95" font-size="7.52" text-anchor="end" textLength="12.30" lengthAdjust="spacingAndGlyphs">500</text>
<text x="279.75" y="507.25" font-size="7.52" text-anchor="end" textLength="4.10" lengthAdjust="spacingAndGlyphs">0</text>
<rect x="290.00" y="397.10" width="6.40" height="6.30" fill="#A3002C"/>
<rect x="290.00" y="407.90" width="6.40" height="6.20" fill="#2D4C85"/>
<text x="301.70" y="403.40" font-size="7.5" textLength="21.40" lengthAdjust="spacingAndGlyphs">Fpr2/3</text>
<text x="323.30" y="400.90" font-size="4.9" textLength="7.80" lengthAdjust="spacingAndGlyphs">+/+</text>
<text x="301.70" y="414.00" font-size="7.5" textLength="21.40" lengthAdjust="spacingAndGlyphs">Fpr2/3</text>
<text x="323.30" y="411.90" font-size="4.9" textLength="6.60" lengthAdjust="spacingAndGlyphs">−/−</text>
<line x1="295.25" y1="486.50" x2="295.25" y2="485.60" stroke="#1a1a1a" stroke-width="1.2"/>
<path d="M293.65 485.60 L296.85 485.60 L295.75 487.60 L294.75 487.60 Z" fill="#1a1a1a"/>
<rect x="290.80" y="486.50" width="8.90" height="18.10" fill="#A3002C"/>
<rect x="291.15" y="486.85" width="8.20" height="17.75" fill="none" stroke="#8f0026" stroke-width="0.7"/>
<line x1="304.95" y1="487.70" x2="304.95" y2="486.80" stroke="#1a1a1a" stroke-width="1.2"/>
<path d="M303.35 486.80 L306.55 486.80 L305.45 488.80 L304.45 488.80 Z" fill="#1a1a1a"/>
<rect x="300.90" y="487.70" width="8.10" height="16.90" fill="#2D4C85"/>
<rect x="301.25" y="488.05" width="7.40" height="16.55" fill="none" stroke="#233f73" stroke-width="0.7"/>
<line x1="323.25" y1="486.50" x2="323.25" y2="485.60" stroke="#1a1a1a" stroke-width="1.2"/>
<path d="M321.65 485.60 L324.85 485.60 L323.75 487.60 L322.75 487.60 Z" fill="#1a1a1a"/>
<rect x="319.00" y="486.50" width="8.50" height="18.10" fill="#A3002C"/>
<rect x="319.35" y="486.85" width="7.80" height="17.75" fill="none" stroke="#8f0026" stroke-width="0.7"/>
<line x1="332.90" y1="487.70" x2="332.90" y2="486.80" stroke="#1a1a1a" stroke-width="1.2"/>
<path d="M331.30 486.80 L334.50 486.80 L333.40 488.80 L332.40 488.80 Z" fill="#1a1a1a"/>
<rect x="328.80" y="487.70" width="8.20" height="16.90" fill="#2D4C85"/>
<rect x="329.15" y="488.05" width="7.50" height="16.55" fill="none" stroke="#233f73" stroke-width="0.7"/>
<rect x="347.00" y="451.80" width="8.90" height="52.80" fill="#A3002C"/>
<rect x="347.35" y="452.15" width="8.20" height="52.45" fill="none" stroke="#8f0026" stroke-width="0.7"/>
<line x1="351.45" y1="442.00" x2="351.45" y2="441.00" stroke="#1a1a1a" stroke-width="1.2"/>
<path d="M349.85 441.00 L353.05 441.00 L351.95 443.00 L350.95 443.00 Z" fill="#1a1a1a"/>
<rect x="347.00" y="442.00" width="8.90" height="4.80" fill="#A3002C"/>
<rect x="347.35" y="442.35" width="8.20" height="4.45" fill="none" stroke="#8f0026" stroke-width="0.7"/>
<line x1="360.85" y1="481.10" x2="360.85" y2="474.40" stroke="#1a1a1a" stroke-width="1.2"/>
<path d="M359.25 474.40 L362.45 474.40 L361.35 476.40 L360.35 476.40 Z" fill="#1a1a1a"/>
<rect x="356.80" y="481.10" width="8.10" height="23.50" fill="#2D4C85"/>
<rect x="357.15" y="481.45" width="7.40" height="23.15" fill="none" stroke="#233f73" stroke-width="0.7"/>
<rect x="374.80" y="451.80" width="8.70" height="52.80" fill="#A3002C"/>
<rect x="375.15" y="452.15" width="8.00" height="52.45" fill="none" stroke="#8f0026" stroke-width="0.7"/>
<line x1="379.15" y1="440.40" x2="379.15" y2="438.50" stroke="#1a1a1a" stroke-width="1.2"/>
<path d="M377.55 438.50 L380.75 438.50 L379.65 440.50 L378.65 440.50 Z" fill="#1a1a1a"/>
<rect x="374.80" y="440.40" width="8.70" height="6.40" fill="#A3002C"/>
<rect x="375.15" y="440.75" width="8.00" height="6.05" fill="none" stroke="#8f0026" stroke-width="0.7"/>
<line x1="389.00" y1="475.60" x2="389.00" y2="464.00" stroke="#1a1a1a" stroke-width="1.2"/>
<path d="M387.40 464.00 L390.60 464.00 L389.50 466.00 L388.50 466.00 Z" fill="#1a1a1a"/>
<rect x="384.80" y="475.60" width="8.40" height="29.00" fill="#2D4C85"/>
<rect x="385.15" y="475.95" width="7.70" height="28.65" fill="none" stroke="#233f73" stroke-width="0.7"/>
<rect x="403.10" y="451.80" width="8.60" height="52.80" fill="#A3002C"/>
<rect x="403.45" y="452.15" width="7.90" height="52.45" fill="none" stroke="#8f0026" stroke-width="0.7"/>
<line x1="407.40" y1="433.10" x2="407.40" y2="431.20" stroke="#1a1a1a" stroke-width="1.2"/>
<path d="M405.80 431.20 L409.00 431.20 L407.90 433.20 L406.90 433.20 Z" fill="#1a1a1a"/>
<rect x="403.10" y="433.10" width="8.60" height="13.70" fill="#A3002C"/>
<rect x="403.45" y="433.45" width="7.90" height="13.35" fill="none" stroke="#8f0026" stroke-width="0.7"/>
<line x1="417.15" y1="473.50" x2="417.15" y2="461.40" stroke="#1a1a1a" stroke-width="1.2"/>
<path d="M415.55 461.40 L418.75 461.40 L417.65 463.40 L416.65 463.40 Z" fill="#1a1a1a"/>
<rect x="413.10" y="473.50" width="8.10" height="31.10" fill="#2D4C85"/>
<rect x="413.45" y="473.85" width="7.40" height="30.75" fill="none" stroke="#233f73" stroke-width="0.7"/>
<rect x="431.10" y="451.80" width="8.40" height="52.80" fill="#A3002C"/>
<rect x="431.45" y="452.15" width="7.70" height="52.45" fill="none" stroke="#8f0026" stroke-width="0.7"/>
<line x1="435.30" y1="410.20" x2="435.30" y2="406.70" stroke="#1a1a1a" stroke-width="1.2"/>
<path d="M433.70 406.70 L436.90 406.70 L435.80 408.70 L434.80 408.70 Z" fill="#1a1a1a"/>
<rect x="431.10" y="410.20" width="8.40" height="36.60" fill="#A3002C"/>
<rect x="431.45" y="410.55" width="7.70" height="36.25" fill="none" stroke="#8f0026" stroke-width="0.7"/>
<line x1="445.00" y1="474.50" x2="445.00" y2="473.00" stroke="#1a1a1a" stroke-width="1.2"/>
<path d="M443.40 473.00 L446.60 473.00 L445.50 475.00 L444.50 475.00 Z" fill="#1a1a1a"/>
<rect x="440.80" y="474.50" width="8.40" height="30.10" fill="#2D4C85"/>
<rect x="441.15" y="474.85" width="7.70" height="29.75" fill="none" stroke="#233f73" stroke-width="0.7"/>
<line x1="351.20" y1="437.10" x2="359.80" y2="437.10" stroke="#1a1a1a" stroke-width="1.0"/>
<circle cx="355.50" cy="434.20" r="1.05" fill="#2a2a2a"/>
<line x1="379.40" y1="433.10" x2="388.80" y2="433.10" stroke="#1a1a1a" stroke-width="1.0"/>
<circle cx="380.85" cy="430.20" r="1.05" fill="#2a2a2a"/>
<circle cx="384.10" cy="430.20" r="1.05" fill="#2a2a2a"/>
<circle cx="387.35" cy="430.20" r="1.05" fill="#2a2a2a"/>
<line x1="407.20" y1="426.40" x2="416.30" y2="426.40" stroke="#1a1a1a" stroke-width="1.0"/>
<circle cx="408.50" cy="423.50" r="1.05" fill="#2a2a2a"/>
<circle cx="411.75" cy="423.50" r="1.05" fill="#2a2a2a"/>
<circle cx="415.00" cy="423.50" r="1.05" fill="#2a2a2a"/>
<line x1="435.20" y1="402.10" x2="444.60" y2="402.10" stroke="#1a1a1a" stroke-width="1.0"/>
<circle cx="436.65" cy="399.20" r="1.05" fill="#2a2a2a"/>
<circle cx="439.90" cy="399.20" r="1.05" fill="#2a2a2a"/>
<circle cx="443.15" cy="399.20" r="1.05" fill="#2a2a2a"/>
<line x1="300.10" y1="504.60" x2="300.10" y2="507.40" stroke="#1a1a1a" stroke-width="1.0"/>
<line x1="328.00" y1="504.60" x2="328.00" y2="507.40" stroke="#1a1a1a" stroke-width="1.0"/>
<line x1="355.90" y1="504.60" x2="355.90" y2="507.40" stroke="#1a1a1a" stroke-width="1.0"/>
<line x1="384.00" y1="504.60" x2="384.00" y2="507.40" stroke="#1a1a1a" stroke-width="1.0"/>
<line x1="411.80" y1="504.60" x2="411.80" y2="507.40" stroke="#1a1a1a" stroke-width="1.0"/>
<line x1="440.00" y1="504.60" x2="440.00" y2="507.40" stroke="#1a1a1a" stroke-width="1.0"/>
<text x="300.10" y="518.20" font-size="7.09" text-anchor="middle" textLength="3.95" lengthAdjust="spacingAndGlyphs">0</text>
<text x="328.00" y="518.20" font-size="7.09" text-anchor="middle" textLength="3.95" lengthAdjust="spacingAndGlyphs">1</text>
<text x="355.90" y="518.20" font-size="7.09" text-anchor="middle" textLength="3.95" lengthAdjust="spacingAndGlyphs">5</text>
<text x="384.00" y="518.20" font-size="7.09" text-anchor="middle" textLength="7.90" lengthAdjust="spacingAndGlyphs">10</text>
<text x="411.80" y="518.20" font-size="7.09" text-anchor="middle" textLength="7.90" lengthAdjust="spacingAndGlyphs">20</text>
<text x="440.00" y="518.20" font-size="7.09" text-anchor="middle" textLength="7.90" lengthAdjust="spacingAndGlyphs">50</text>
<text x="349.60" y="530.40" font-size="9.9" textLength="41.00" lengthAdjust="spacingAndGlyphs">LL37 (μM)</text>
<text x="250.54" y="445.50" font-size="10.3" text-anchor="middle" textLength="103.00" lengthAdjust="spacingAndGlyphs" transform="rotate(-90 250.54 445.50)">Fibrinogen binding (MFI)</text>
<text x="6.10" y="549.50" font-size="12.2" textLength="8.30" lengthAdjust="spacingAndGlyphs">D</text>
<rect x="22" y="555.00" width="1.0" height="4.0" fill="#333"/>
<rect x="22" y="553.10" width="1.0" height="1.1" fill="#333" opacity="0.75"/>
<line x1="56.40" y1="564.20" x2="56.40" y2="592.80" stroke="#1a1a1a" stroke-width="1.15"/>
<line x1="58.10" y1="592.40" x2="54.50" y2="595.80" stroke="#1a1a1a" stroke-width="1.0"/>
<line x1="58.10" y1="595.80" x2="54.50" y2="598.90" stroke="#1a1a1a" stroke-width="1.0"/>
<line x1="56.40" y1="597.90" x2="56.40" y2="679.70" stroke="#1a1a1a" stroke-width="1.15"/>
<line x1="55.90" y1="679.20" x2="225.80" y2="679.20" stroke="#1a1a1a" stroke-width="1.25"/>
<line x1="53.50" y1="567.00" x2="56.40" y2="567.00" stroke="#1a1a1a" stroke-width="1.0"/>
<line x1="53.50" y1="579.40" x2="56.40" y2="579.40" stroke="#1a1a1a" stroke-width="1.0"/>
<line x1="53.50" y1="591.80" x2="56.40" y2="591.80" stroke="#1a1a1a" stroke-width="1.0"/>
<line x1="53.50" y1="601.90" x2="56.40" y2="601.90" stroke="#1a1a1a" stroke-width="1.0"/>
<line x1="53.50" y1="627.70" x2="56.40" y2="627.70" stroke="#1a1a1a" stroke-width="1.0"/>
<line x1="53.50" y1="653.40" x2="56.40" y2="653.40" stroke="#1a1a1a" stroke-width="1.0"/>
<line x1="53.50" y1="679.20" x2="56.40" y2="679.20" stroke="#1a1a1a" stroke-width="1.0"/>
<text x="50.05" y="569.60" font-size="7.38" text-anchor="end" textLength="16.40" lengthAdjust="spacingAndGlyphs">4500</text>
<text x="50.05" y="582.00" font-size="7.38" text-anchor="end" textLength="16.40" lengthAdjust="spacingAndGlyphs">3000</text>
<text x="50.05" y="594.40" font-size="7.38" text-anchor="end" textLength="16.40" lengthAdjust="spacingAndGlyphs">1500</text>
<text x="50.05" y="604.50" font-size="7.38" text-anchor="end" textLength="16.40" lengthAdjust="spacingAndGlyphs">1200</text>
<text x="50.05" y="630.30" font-size="7.38" text-anchor="end" textLength="12.30" lengthAdjust="spacingAndGlyphs">800</text>
<text x="50.05" y="656.00" font-size="7.38" text-anchor="end" textLength="12.30" lengthAdjust="spacingAndGlyphs">400</text>
<text x="50.05" y="681.80" font-size="7.38" text-anchor="end" textLength="4.10" lengthAdjust="spacingAndGlyphs">0</text>
<rect x="60.20" y="570.90" width="6.40" height="6.30" fill="#A3002C"/>
<rect x="60.20" y="581.80" width="6.40" height="6.20" fill="#2D4C85"/>
<text x="71.90" y="577.20" font-size="7.5" textLength="21.40" lengthAdjust="spacingAndGlyphs">Fpr2/3</text>
<text x="93.50" y="574.70" font-size="4.9" textLength="7.80" lengthAdjust="spacingAndGlyphs">+/+</text>
<text x="71.90" y="587.90" font-size="7.5" textLength="21.40" lengthAdjust="spacingAndGlyphs">Fpr2/3</text>
<text x="93.50" y="585.80" font-size="4.9" textLength="6.60" lengthAdjust="spacingAndGlyphs">−/−</text>
<line x1="63.35" y1="637.40" x2="63.35" y2="635.30" stroke="#1a1a1a" stroke-width="1.2"/>
<path d="M61.75 635.30 L64.95 635.30 L63.85 637.30 L62.85 637.30 Z" fill="#1a1a1a"/>
<rect x="58.90" y="637.40" width="8.90" height="41.80" fill="#A3002C"/>
<rect x="59.25" y="637.75" width="8.20" height="41.45" fill="none" stroke="#8f0026" stroke-width="0.7"/>
<line x1="73.10" y1="636.90" x2="73.10" y2="634.80" stroke="#1a1a1a" stroke-width="1.2"/>
<path d="M71.50 634.80 L74.70 634.80 L73.60 636.80 L72.60 636.80 Z" fill="#1a1a1a"/>
<rect x="68.80" y="636.90" width="8.60" height="42.30" fill="#2D4C85"/>
<rect x="69.15" y="637.25" width="7.90" height="41.95" fill="none" stroke="#233f73" stroke-width="0.7"/>
<line x1="92.45" y1="623.00" x2="92.45" y2="618.50" stroke="#1a1a1a" stroke-width="1.2"/>
<path d="M90.85 618.50 L94.05 618.50 L92.95 620.50 L91.95 620.50 Z" fill="#1a1a1a"/>
<rect x="88.00" y="623.00" width="8.90" height="56.20" fill="#A3002C"/>
<rect x="88.35" y="623.35" width="8.20" height="55.85" fill="none" stroke="#8f0026" stroke-width="0.7"/>
<line x1="102.40" y1="636.20" x2="102.40" y2="633.10" stroke="#1a1a1a" stroke-width="1.2"/>
<path d="M100.80 633.10 L104.00 633.10 L102.90 635.10 L101.90 635.10 Z" fill="#1a1a1a"/>
<rect x="98.10" y="636.20" width="8.60" height="43.00" fill="#2D4C85"/>
<rect x="98.45" y="636.55" width="7.90" height="42.65" fill="none" stroke="#233f73" stroke-width="0.7"/>
<line x1="121.90" y1="605.30" x2="121.90" y2="599.50" stroke="#1a1a1a" stroke-width="1.2"/>
<path d="M120.30 599.50 L123.50 599.50 L122.40 601.50 L121.40 601.50 Z" fill="#1a1a1a"/>
<rect x="117.60" y="605.30" width="8.60" height="73.90" fill="#A3002C"/>
<rect x="117.95" y="605.65" width="7.90" height="73.55" fill="none" stroke="#8f0026" stroke-width="0.7"/>
<line x1="131.85" y1="634.90" x2="131.85" y2="631.60" stroke="#1a1a1a" stroke-width="1.2"/>
<path d="M130.25 631.60 L133.45 631.60 L132.35 633.60 L131.35 633.60 Z" fill="#1a1a1a"/>
<rect x="127.70" y="634.90" width="8.30" height="44.30" fill="#2D4C85"/>
<rect x="128.05" y="635.25" width="7.60" height="43.95" fill="none" stroke="#233f73" stroke-width="0.7"/>
<rect x="146.70" y="599.50" width="8.80" height="79.70" fill="#A3002C"/>
<rect x="147.05" y="599.85" width="8.10" height="79.35" fill="none" stroke="#8f0026" stroke-width="0.7"/>
<line x1="151.10" y1="593.00" x2="151.10" y2="592.30" stroke="#1a1a1a" stroke-width="1.2"/>
<path d="M149.50 592.30 L152.70 592.30 L151.60 594.30 L150.60 594.30 Z" fill="#1a1a1a"/>
<rect x="146.70" y="593.00" width="8.80" height="1.00" fill="#A3002C"/>
<rect x="147.05" y="593.35" width="8.10" height="0.65" fill="none" stroke="#8f0026" stroke-width="0.7"/>
<line x1="161.20" y1="628.60" x2="161.20" y2="624.00" stroke="#1a1a1a" stroke-width="1.2"/>
<path d="M159.60 624.00 L162.80 624.00 L161.70 626.00 L160.70 626.00 Z" fill="#1a1a1a"/>
<rect x="157.00" y="628.60" width="8.40" height="50.60" fill="#2D4C85"/>
<rect x="157.35" y="628.95" width="7.70" height="50.25" fill="none" stroke="#233f73" stroke-width="0.7"/>
<rect x="176.30" y="599.50" width="8.60" height="79.70" fill="#A3002C"/>
<rect x="176.65" y="599.85" width="7.90" height="79.35" fill="none" stroke="#8f0026" stroke-width="0.7"/>
<line x1="180.60" y1="589.40" x2="180.60" y2="587.40" stroke="#1a1a1a" stroke-width="1.2"/>
<path d="M179.00 587.40 L182.20 587.40 L181.10 589.40 L180.10 589.40 Z" fill="#1a1a1a"/>
<rect x="176.30" y="589.40" width="8.60" height="4.60" fill="#A3002C"/>
<rect x="176.65" y="589.75" width="7.90" height="4.25" fill="none" stroke="#8f0026" stroke-width="0.7"/>
<line x1="190.40" y1="616.40" x2="190.40" y2="610.40" stroke="#1a1a1a" stroke-width="1.2"/>
<path d="M188.80 610.40 L192.00 610.40 L190.90 612.40 L189.90 612.40 Z" fill="#1a1a1a"/>
<rect x="186.10" y="616.40" width="8.60" height="62.80" fill="#2D4C85"/>
<rect x="186.45" y="616.75" width="7.90" height="62.45" fill="none" stroke="#233f73" stroke-width="0.7"/>
<rect x="205.30" y="599.50" width="8.90" height="79.70" fill="#A3002C"/>
<rect x="205.65" y="599.85" width="8.20" height="79.35" fill="none" stroke="#8f0026" stroke-width="0.7"/>
<line x1="209.75" y1="575.50" x2="209.75" y2="574.20" stroke="#1a1a1a" stroke-width="1.2"/>
<path d="M208.15 574.20 L211.35 574.20 L210.25 576.20 L209.25 576.20 Z" fill="#1a1a1a"/>
<rect x="205.30" y="575.50" width="8.90" height="18.50" fill="#A3002C"/>
<rect x="205.65" y="575.85" width="8.20" height="18.15" fill="none" stroke="#8f0026" stroke-width="0.7"/>
<line x1="219.80" y1="608.80" x2="219.80" y2="604.50" stroke="#1a1a1a" stroke-width="1.2"/>
<path d="M218.20 604.50 L221.40 604.50 L220.30 606.50 L219.30 606.50 Z" fill="#1a1a1a"/>
<rect x="215.50" y="608.80" width="8.60" height="70.40" fill="#2D4C85"/>
<rect x="215.85" y="609.15" width="7.90" height="70.05" fill="none" stroke="#233f73" stroke-width="0.7"/>
<line x1="121.90" y1="597.00" x2="132.30" y2="597.00" stroke="#1a1a1a" stroke-width="1.0"/>
<circle cx="127.10" cy="594.10" r="1.05" fill="#2a2a2a"/>
<line x1="151.00" y1="589.40" x2="161.30" y2="589.40" stroke="#1a1a1a" stroke-width="1.0"/>
<circle cx="154.53" cy="586.50" r="1.05" fill="#2a2a2a"/>
<circle cx="157.78" cy="586.50" r="1.05" fill="#2a2a2a"/>
<line x1="180.30" y1="583.60" x2="190.40" y2="583.60" stroke="#1a1a1a" stroke-width="1.0"/>
<circle cx="182.10" cy="580.70" r="1.05" fill="#2a2a2a"/>
<circle cx="185.35" cy="580.70" r="1.05" fill="#2a2a2a"/>
<circle cx="188.60" cy="580.70" r="1.05" fill="#2a2a2a"/>
<line x1="209.90" y1="570.90" x2="220.00" y2="570.90" stroke="#1a1a1a" stroke-width="1.0"/>
<circle cx="211.70" cy="568.00" r="1.05" fill="#2a2a2a"/>
<circle cx="214.95" cy="568.00" r="1.05" fill="#2a2a2a"/>
<circle cx="218.20" cy="568.00" r="1.05" fill="#2a2a2a"/>
<line x1="67.80" y1="679.20" x2="67.80" y2="682.00" stroke="#1a1a1a" stroke-width="1.0"/>
<line x1="97.40" y1="679.20" x2="97.40" y2="682.00" stroke="#1a1a1a" stroke-width="1.0"/>
<line x1="127.00" y1="679.20" x2="127.00" y2="682.00" stroke="#1a1a1a" stroke-width="1.0"/>
<line x1="156.30" y1="679.20" x2="156.30" y2="682.00" stroke="#1a1a1a" stroke-width="1.0"/>
<line x1="185.40" y1="679.20" x2="185.40" y2="682.00" stroke="#1a1a1a" stroke-width="1.0"/>
<line x1="214.50" y1="679.20" x2="214.50" y2="682.00" stroke="#1a1a1a" stroke-width="1.0"/>
<text x="67.80" y="692.30" font-size="7.09" text-anchor="middle" textLength="3.95" lengthAdjust="spacingAndGlyphs">0</text>
<text x="97.40" y="692.30" font-size="7.09" text-anchor="middle" textLength="3.95" lengthAdjust="spacingAndGlyphs">1</text>
<text x="127.00" y="692.30" font-size="7.09" text-anchor="middle" textLength="3.95" lengthAdjust="spacingAndGlyphs">5</text>
<text x="156.30" y="692.30" font-size="7.09" text-anchor="middle" textLength="7.90" lengthAdjust="spacingAndGlyphs">10</text>
<text x="185.40" y="692.30" font-size="7.09" text-anchor="middle" textLength="7.90" lengthAdjust="spacingAndGlyphs">20</text>
<text x="214.50" y="692.30" font-size="7.09" text-anchor="middle" textLength="7.90" lengthAdjust="spacingAndGlyphs">50</text>
<text x="121.40" y="705.30" font-size="9.9" textLength="40.40" lengthAdjust="spacingAndGlyphs">LL37 (μM)</text>
<text x="25.64" y="619.70" font-size="10.3" text-anchor="middle" textLength="102.60" lengthAdjust="spacingAndGlyphs" transform="rotate(-90 25.64 619.70)">P-selectin exposure (MFI)</text>
<rect x="248" y="555.00" width="1.0" height="4.0" fill="#333"/>
<rect x="248" y="553.10" width="1.0" height="1.1" fill="#333" opacity="0.75"/>
<rect x="250" y="555.00" width="1.0" height="4.0" fill="#333"/>
<rect x="250" y="553.10" width="1.0" height="1.1" fill="#333" opacity="0.75"/>
<line x1="283.30" y1="564.40" x2="283.30" y2="679.50" stroke="#1a1a1a" stroke-width="1.15"/>
<line x1="282.80" y1="679.00" x2="453.50" y2="679.00" stroke="#1a1a1a" stroke-width="1.25"/>
<line x1="280.20" y1="567.20" x2="283.30" y2="567.20" stroke="#1a1a1a" stroke-width="1.0"/>
<line x1="280.20" y1="604.30" x2="283.30" y2="604.30" stroke="#1a1a1a" stroke-width="1.0"/>
<line x1="280.20" y1="641.70" x2="283.30" y2="641.70" stroke="#1a1a1a" stroke-width="1.0"/>
<line x1="280.20" y1="679.00" x2="283.30" y2="679.00" stroke="#1a1a1a" stroke-width="1.0"/>
<text x="276.45" y="569.70" font-size="7.09" text-anchor="end" textLength="16.40" lengthAdjust="spacingAndGlyphs">1500</text>
<text x="276.45" y="606.80" font-size="7.09" text-anchor="end" textLength="16.40" lengthAdjust="spacingAndGlyphs">1000</text>
<text x="276.45" y="644.20" font-size="7.09" text-anchor="end" textLength="12.30" lengthAdjust="spacingAndGlyphs">500</text>
<text x="276.45" y="681.50" font-size="7.09" text-anchor="end" textLength="4.10" lengthAdjust="spacingAndGlyphs">0</text>
<rect x="287.20" y="570.80" width="6.40" height="6.30" fill="#A3002C"/>
<rect x="287.20" y="581.30" width="6.40" height="6.20" fill="#2D4C85"/>
<text x="298.90" y="577.10" font-size="7.5" textLength="21.40" lengthAdjust="spacingAndGlyphs">Fpr2/3</text>
<text x="320.50" y="574.60" font-size="4.9" textLength="7.80" lengthAdjust="spacingAndGlyphs">+/+</text>
<text x="298.90" y="587.40" font-size="7.5" textLength="21.40" lengthAdjust="spacingAndGlyphs">Fpr2/3</text>
<text x="320.50" y="585.30" font-size="4.9" textLength="6.60" lengthAdjust="spacingAndGlyphs">−/−</text>
<line x1="292.20" y1="636.00" x2="292.20" y2="633.80" stroke="#1a1a1a" stroke-width="1.2"/>
<path d="M290.60 633.80 L293.80 633.80 L292.70 635.80 L291.70 635.80 Z" fill="#1a1a1a"/>
<rect x="287.90" y="636.00" width="8.60" height="43.00" fill="#A3002C"/>
<rect x="288.25" y="636.35" width="7.90" height="42.65" fill="none" stroke="#8f0026" stroke-width="0.7"/>
<line x1="302.20" y1="636.80" x2="302.20" y2="634.60" stroke="#1a1a1a" stroke-width="1.2"/>
<path d="M300.60 634.60 L303.80 634.60 L302.70 636.60 L301.70 636.60 Z" fill="#1a1a1a"/>
<rect x="297.90" y="636.80" width="8.60" height="42.20" fill="#2D4C85"/>
<rect x="298.25" y="637.15" width="7.90" height="41.85" fill="none" stroke="#233f73" stroke-width="0.7"/>
<line x1="320.50" y1="635.40" x2="320.50" y2="633.60" stroke="#1a1a1a" stroke-width="1.2"/>
<path d="M318.90 633.60 L322.10 633.60 L321.00 635.60 L320.00 635.60 Z" fill="#1a1a1a"/>
<rect x="316.20" y="635.40" width="8.60" height="43.60" fill="#A3002C"/>
<rect x="316.55" y="635.75" width="7.90" height="43.25" fill="none" stroke="#8f0026" stroke-width="0.7"/>
<line x1="330.50" y1="636.00" x2="330.50" y2="632.80" stroke="#1a1a1a" stroke-width="1.2"/>
<path d="M328.90 632.80 L332.10 632.80 L331.00 634.80 L330.00 634.80 Z" fill="#1a1a1a"/>
<rect x="326.20" y="636.00" width="8.60" height="43.00" fill="#2D4C85"/>
<rect x="326.55" y="636.35" width="7.90" height="42.65" fill="none" stroke="#233f73" stroke-width="0.7"/>
<line x1="349.30" y1="621.20" x2="349.30" y2="615.80" stroke="#1a1a1a" stroke-width="1.2"/>
<path d="M347.70 615.80 L350.90 615.80 L349.80 617.80 L348.80 617.80 Z" fill="#1a1a1a"/>
<rect x="345.00" y="621.20" width="8.60" height="57.80" fill="#A3002C"/>
<rect x="345.35" y="621.55" width="7.90" height="57.45" fill="none" stroke="#8f0026" stroke-width="0.7"/>
<line x1="359.30" y1="637.30" x2="359.30" y2="635.20" stroke="#1a1a1a" stroke-width="1.2"/>
<path d="M357.70 635.20 L360.90 635.20 L359.80 637.20 L358.80 637.20 Z" fill="#1a1a1a"/>
<rect x="355.00" y="637.30" width="8.60" height="41.70" fill="#2D4C85"/>
<rect x="355.35" y="637.65" width="7.90" height="41.35" fill="none" stroke="#233f73" stroke-width="0.7"/>
<line x1="378.25" y1="619.80" x2="378.25" y2="614.70" stroke="#1a1a1a" stroke-width="1.2"/>
<path d="M376.65 614.70 L379.85 614.70 L378.75 616.70 L377.75 616.70 Z" fill="#1a1a1a"/>
<rect x="373.80" y="619.80" width="8.90" height="59.20" fill="#A3002C"/>
<rect x="374.15" y="620.15" width="8.20" height="58.85" fill="none" stroke="#8f0026" stroke-width="0.7"/>
<line x1="387.90" y1="635.40" x2="387.90" y2="632.50" stroke="#1a1a1a" stroke-width="1.2"/>
<path d="M386.30 632.50 L389.50 632.50 L388.40 634.50 L387.40 634.50 Z" fill="#1a1a1a"/>
<rect x="383.70" y="635.40" width="8.40" height="43.60" fill="#2D4C85"/>
<rect x="384.05" y="635.75" width="7.70" height="43.25" fill="none" stroke="#233f73" stroke-width="0.7"/>
<line x1="406.60" y1="612.00" x2="406.60" y2="605.50" stroke="#1a1a1a" stroke-width="1.2"/>
<path d="M405.00 605.50 L408.20 605.50 L407.10 607.50 L406.10 607.50 Z" fill="#1a1a1a"/>
<rect x="402.30" y="612.00" width="8.60" height="67.00" fill="#A3002C"/>
<rect x="402.65" y="612.35" width="7.90" height="66.65" fill="none" stroke="#8f0026" stroke-width="0.7"/>
<line x1="416.45" y1="631.40" x2="416.45" y2="627.40" stroke="#1a1a1a" stroke-width="1.2"/>
<path d="M414.85 627.40 L418.05 627.40 L416.95 629.40 L415.95 629.40 Z" fill="#1a1a1a"/>
<rect x="412.30" y="631.40" width="8.30" height="47.60" fill="#2D4C85"/>
<rect x="412.65" y="631.75" width="7.60" height="47.25" fill="none" stroke="#233f73" stroke-width="0.7"/>
<line x1="435.20" y1="604.50" x2="435.20" y2="595.60" stroke="#1a1a1a" stroke-width="1.2"/>
<path d="M433.60 595.60 L436.80 595.60 L435.70 597.60 L434.70 597.60 Z" fill="#1a1a1a"/>
<rect x="430.90" y="604.50" width="8.60" height="74.50" fill="#A3002C"/>
<rect x="431.25" y="604.85" width="7.90" height="74.15" fill="none" stroke="#8f0026" stroke-width="0.7"/>
<line x1="444.85" y1="627.10" x2="444.85" y2="624.40" stroke="#1a1a1a" stroke-width="1.2"/>
<path d="M443.25 624.40 L446.45 624.40 L445.35 626.40 L444.35 626.40 Z" fill="#1a1a1a"/>
<rect x="440.50" y="627.10" width="8.70" height="51.90" fill="#2D4C85"/>
<rect x="440.85" y="627.45" width="8.00" height="51.55" fill="none" stroke="#233f73" stroke-width="0.7"/>
<line x1="350.40" y1="613.60" x2="358.50" y2="613.60" stroke="#1a1a1a" stroke-width="1.0"/>
<circle cx="354.45" cy="610.70" r="1.05" fill="#2a2a2a"/>
<line x1="378.10" y1="610.90" x2="386.70" y2="610.90" stroke="#1a1a1a" stroke-width="1.0"/>
<circle cx="382.40" cy="608.00" r="1.05" fill="#2a2a2a"/>
<line x1="406.30" y1="603.10" x2="415.00" y2="603.10" stroke="#1a1a1a" stroke-width="1.0"/>
<circle cx="410.65" cy="600.20" r="1.05" fill="#2a2a2a"/>
<line x1="435.40" y1="592.90" x2="444.00" y2="592.90" stroke="#1a1a1a" stroke-width="1.0"/>
<circle cx="438.07" cy="590.00" r="1.05" fill="#2a2a2a"/>
<circle cx="441.32" cy="590.00" r="1.05" fill="#2a2a2a"/>
<line x1="297.10" y1="679.00" x2="297.10" y2="681.80" stroke="#1a1a1a" stroke-width="1.0"/>
<line x1="325.60" y1="679.00" x2="325.60" y2="681.80" stroke="#1a1a1a" stroke-width="1.0"/>
<line x1="353.80" y1="679.00" x2="353.80" y2="681.80" stroke="#1a1a1a" stroke-width="1.0"/>
<line x1="382.90" y1="679.00" x2="382.90" y2="681.80" stroke="#1a1a1a" stroke-width="1.0"/>
<line x1="411.70" y1="679.00" x2="411.70" y2="681.80" stroke="#1a1a1a" stroke-width="1.0"/>
<line x1="440.00" y1="679.00" x2="440.00" y2="681.80" stroke="#1a1a1a" stroke-width="1.0"/>
<text x="297.10" y="692.30" font-size="7.09" text-anchor="middle" textLength="3.95" lengthAdjust="spacingAndGlyphs">0</text>
<text x="325.60" y="692.30" font-size="7.09" text-anchor="middle" textLength="3.95" lengthAdjust="spacingAndGlyphs">1</text>
<text x="353.80" y="692.30" font-size="7.09" text-anchor="middle" textLength="3.95" lengthAdjust="spacingAndGlyphs">5</text>
<text x="382.90" y="692.30" font-size="7.09" text-anchor="middle" textLength="7.90" lengthAdjust="spacingAndGlyphs">10</text>
<text x="411.70" y="692.30" font-size="7.09" text-anchor="middle" textLength="7.90" lengthAdjust="spacingAndGlyphs">20</text>
<text x="440.00" y="692.30" font-size="7.09" text-anchor="middle" textLength="7.90" lengthAdjust="spacingAndGlyphs">50</text>
<text x="348.50" y="705.30" font-size="9.9" textLength="40.20" lengthAdjust="spacingAndGlyphs">LL37 (μM)</text>
<text x="252.04" y="619.70" font-size="10.3" text-anchor="middle" textLength="102.60" lengthAdjust="spacingAndGlyphs" transform="rotate(-90 252.04 619.70)">P-selectin exposure (MFI)</text>
<g filter="url(#blur05)"><g>
<path d="M409 195.5 C409 200 410 203 413 205 C418 208 421 211 424 213 C428 217 433 219 437 219" fill="none" stroke="#d8c428" stroke-width="1.4"/>
<path d="M425 214 C430 215 435 216 440 220 C443 222 446 222 449 223" fill="none" stroke="#d8c428" stroke-width="1.4"/>
<path d="M420 218 C428 220 432 226 438 230" fill="none" stroke="#d8c428" stroke-width="1.3"/>
<path d="M354 289 C350 296 356 300 358 305 C360 309 364 308 366 306" fill="none" stroke="#e6c27a" stroke-width="1.4"/>
<path d="M352.0 282.7 L352.3 282.6 L352.7 282.7 L353.3 282.9 L354.0 283.2 L354.7 283.6 L355.6 284.1 L356.5 284.7 L357.4 285.4 L358.3 286.0 L359.2 286.6 L360.1 287.1 L360.8 287.5 L361.5 287.8 L362.1 288.0 L362.5 288.1 L362.8 288.0" fill="none" stroke="#c9a050" stroke-width="3.99" stroke-linecap="round"/>
<path d="M359.2 276.5 L359.5 276.4 L359.9 276.5 L360.5 276.7 L361.2 277.0 L361.9 277.4 L362.8 277.9 L363.7 278.5 L364.6 279.1 L365.5 279.8 L366.4 280.4 L367.3 280.9 L368.0 281.3 L368.7 281.6 L369.3 281.8 L369.7 281.9 L370.0 281.8" fill="none" stroke="#c9a050" stroke-width="3.99" stroke-linecap="round"/>
<path d="M366.4 270.3 L366.7 270.2 L367.1 270.3 L367.7 270.5 L368.4 270.8 L369.1 271.2 L370.0 271.7 L370.9 272.3 L371.8 272.9 L372.7 273.6 L373.6 274.2 L374.5 274.7 L375.2 275.1 L375.9 275.4 L376.5 275.6 L376.9 275.7 L377.2 275.6" fill="none" stroke="#c9a050" stroke-width="3.99" stroke-linecap="round"/>
<path d="M373.6 264.1 L373.9 264.0 L374.3 264.1 L374.9 264.3 L375.6 264.6 L376.3 265.0 L377.2 265.5 L378.1 266.1 L379.0 266.8 L379.9 267.4 L380.8 268.0 L381.7 268.5 L382.4 268.9 L383.1 269.2 L383.7 269.4 L384.1 269.5 L384.4 269.4" fill="none" stroke="#c9a050" stroke-width="3.99" stroke-linecap="round"/>
<path d="M380.8 257.9 L381.1 257.8 L381.5 257.9 L382.1 258.1 L382.8 258.4 L383.5 258.8 L384.4 259.3 L385.3 259.9 L386.2 260.6 L387.1 261.2 L388.0 261.8 L388.9 262.3 L389.6 262.7 L390.3 263.0 L390.9 263.2 L391.3 263.3 L391.6 263.2" fill="none" stroke="#c9a050" stroke-width="3.99" stroke-linecap="round"/>
<path d="M355.6 294.2 L355.7 293.9 L355.8 293.5 L355.7 292.9 L355.4 292.2 L355.1 291.3 L354.7 290.4 L354.3 289.5 L353.8 288.4 L353.3 287.4 L352.9 286.5 L352.5 285.6 L352.2 284.7 L351.9 284.0 L351.8 283.4 L351.9 283.0 L352.0 282.7" fill="none" stroke="#ecc674" stroke-width="5.51" stroke-linecap="round"/>
<path d="M355.1 293.4 L354.9 292.7 L354.5 291.8 L354.1 290.9 L353.7 290.0 L353.2 288.9 L352.7 287.9 L352.3 287.0 L351.9 286.0 L351.6 285.2 L351.4 284.5" fill="none" stroke="#f2d9a4" stroke-width="1.65" stroke-linecap="round" opacity="0.8"/>
<path d="M362.8 288.0 L362.9 287.7 L363.0 287.3 L362.9 286.7 L362.6 286.0 L362.3 285.1 L361.9 284.2 L361.5 283.3 L361.0 282.2 L360.5 281.2 L360.1 280.3 L359.7 279.4 L359.4 278.5 L359.1 277.8 L359.0 277.2 L359.1 276.8 L359.2 276.5" fill="none" stroke="#ecc674" stroke-width="5.51" stroke-linecap="round"/>
<path d="M362.3 287.2 L362.1 286.5 L361.7 285.6 L361.3 284.7 L360.9 283.8 L360.4 282.7 L359.9 281.7 L359.5 280.8 L359.1 279.8 L358.8 279.0 L358.6 278.3" fill="none" stroke="#f2d9a4" stroke-width="1.65" stroke-linecap="round" opacity="0.8"/>
<path d="M370.0 281.8 L370.1 281.5 L370.2 281.1 L370.1 280.5 L369.8 279.8 L369.5 278.9 L369.1 278.0 L368.7 277.1 L368.2 276.1 L367.7 275.0 L367.3 274.1 L366.9 273.2 L366.6 272.3 L366.3 271.6 L366.2 271.0 L366.3 270.6 L366.4 270.3" fill="none" stroke="#ecc674" stroke-width="5.51" stroke-linecap="round"/>
<path d="M369.5 281.0 L369.3 280.3 L368.9 279.4 L368.5 278.5 L368.1 277.6 L367.6 276.5 L367.1 275.5 L366.7 274.6 L366.3 273.6 L366.0 272.8 L365.8 272.1" fill="none" stroke="#f2d9a4" stroke-width="1.65" stroke-linecap="round" opacity="0.8"/>
<path d="M377.2 275.6 L377.3 275.3 L377.4 274.9 L377.3 274.3 L377.0 273.6 L376.7 272.7 L376.3 271.8 L375.9 270.9 L375.4 269.9 L374.9 268.8 L374.5 267.9 L374.1 267.0 L373.8 266.1 L373.5 265.4 L373.4 264.8 L373.5 264.4 L373.6 264.1" fill="none" stroke="#ecc674" stroke-width="5.51" stroke-linecap="round"/>
<path d="M376.7 274.8 L376.5 274.1 L376.1 273.2 L375.7 272.3 L375.3 271.4 L374.8 270.3 L374.3 269.3 L373.9 268.4 L373.5 267.4 L373.2 266.6 L373.0 265.9" fill="none" stroke="#f2d9a4" stroke-width="1.65" stroke-linecap="round" opacity="0.8"/>
<path d="M384.4 269.4 L384.5 269.1 L384.6 268.7 L384.5 268.1 L384.2 267.4 L383.9 266.5 L383.5 265.6 L383.1 264.7 L382.6 263.6 L382.1 262.6 L381.7 261.7 L381.3 260.8 L381.0 259.9 L380.7 259.2 L380.6 258.6 L380.7 258.2 L380.8 257.9" fill="none" stroke="#ecc674" stroke-width="5.51" stroke-linecap="round"/>
<path d="M383.9 268.6 L383.7 267.9 L383.3 267.0 L382.9 266.1 L382.5 265.2 L382.0 264.1 L381.5 263.1 L381.1 262.2 L380.7 261.2 L380.4 260.4 L380.2 259.7" fill="none" stroke="#f2d9a4" stroke-width="1.65" stroke-linecap="round" opacity="0.8"/>
<path d="M395.5 262.5 L395.3 262.7 L394.8 262.8 L394.2 262.9 L393.3 262.8 L392.3 262.8 L391.1 262.6 L389.9 262.4 L388.6 262.2 L387.3 262.1 L386.1 261.9 L385.0 261.7 L383.9 261.7 L383.1 261.6 L382.4 261.7 L382.0 261.8 L381.8 262.0" fill="none" stroke="#a85e14" stroke-width="3.74" stroke-linecap="round"/>
<path d="M392.3 270.8 L392.1 271.0 L391.7 271.2 L391.0 271.2 L390.2 271.2 L389.1 271.1 L388.0 270.9 L386.7 270.8 L385.5 270.6 L384.2 270.4 L382.9 270.2 L381.8 270.1 L380.8 270.0 L379.9 270.0 L379.3 270.0 L378.8 270.1 L378.6 270.4" fill="none" stroke="#a85e14" stroke-width="3.74" stroke-linecap="round"/>
<path d="M389.2 279.1 L388.9 279.4 L388.5 279.5 L387.8 279.5 L387.0 279.5 L386.0 279.4 L384.8 279.3 L383.6 279.1 L382.3 278.9 L381.0 278.7 L379.8 278.6 L378.6 278.4 L377.6 278.3 L376.7 278.3 L376.1 278.3 L375.6 278.5 L375.4 278.7" fill="none" stroke="#a85e14" stroke-width="3.74" stroke-linecap="round"/>
<path d="M386.0 287.5 L385.8 287.7 L385.3 287.8 L384.7 287.9 L383.8 287.8 L382.8 287.8 L381.6 287.6 L380.4 287.4 L379.1 287.2 L377.8 287.1 L376.6 286.9 L375.5 286.7 L374.4 286.7 L373.6 286.6 L372.9 286.7 L372.5 286.8 L372.3 287.0" fill="none" stroke="#a85e14" stroke-width="3.74" stroke-linecap="round"/>
<path d="M382.8 295.8 L382.6 296.0 L382.2 296.2 L381.5 296.2 L380.7 296.2 L379.6 296.1 L378.5 295.9 L377.2 295.8 L376.0 295.6 L374.7 295.4 L373.4 295.2 L372.3 295.1 L371.3 295.0 L370.4 295.0 L369.8 295.0 L369.3 295.1 L369.1 295.4" fill="none" stroke="#a85e14" stroke-width="3.74" stroke-linecap="round"/>
<path d="M379.7 304.1 L379.4 304.4 L379.0 304.5 L378.3 304.5 L377.5 304.5 L376.5 304.4 L375.3 304.3 L374.1 304.1 L372.8 303.9 L371.5 303.7 L370.3 303.6 L369.1 303.4 L368.1 303.3 L367.2 303.3 L366.6 303.3 L366.1 303.5 L365.9 303.7" fill="none" stroke="#a85e14" stroke-width="3.74" stroke-linecap="round"/>
<path d="M384.9 253.7 L384.9 254.0 L385.2 254.4 L385.7 254.9 L386.3 255.4 L387.1 256.0 L388.1 256.7 L389.1 257.4 L390.2 258.1 L391.3 258.8 L392.3 259.5 L393.3 260.1 L394.1 260.8 L394.8 261.3 L395.2 261.8 L395.5 262.2 L395.5 262.5" fill="none" stroke="#dd8c32" stroke-width="5.17" stroke-linecap="round"/>
<path d="M385.9 254.2 L386.6 254.7 L387.4 255.4 L388.3 256.0 L389.4 256.7 L390.5 257.4 L391.5 258.1 L392.6 258.8 L393.5 259.5 L394.4 260.1 L395.0 260.6" fill="none" stroke="#e8b479" stroke-width="1.55" stroke-linecap="round" opacity="0.8"/>
<path d="M381.8 262.0 L381.8 262.3 L382.0 262.7 L382.5 263.2 L383.1 263.7 L384.0 264.4 L384.9 265.0 L386.0 265.7 L387.0 266.4 L388.1 267.1 L389.2 267.8 L390.1 268.5 L390.9 269.1 L391.6 269.6 L392.1 270.1 L392.3 270.5 L392.3 270.8" fill="none" stroke="#dd8c32" stroke-width="5.17" stroke-linecap="round"/>
<path d="M382.7 262.5 L383.4 263.1 L384.2 263.7 L385.2 264.3 L386.2 265.0 L387.3 265.8 L388.4 266.5 L389.4 267.2 L390.4 267.8 L391.2 268.4 L391.9 269.0" fill="none" stroke="#e8b479" stroke-width="1.55" stroke-linecap="round" opacity="0.8"/>
<path d="M378.6 270.4 L378.6 270.7 L378.9 271.1 L379.3 271.5 L380.0 272.1 L380.8 272.7 L381.7 273.3 L382.8 274.0 L383.9 274.8 L385.0 275.5 L386.0 276.2 L387.0 276.8 L387.8 277.4 L388.4 278.0 L388.9 278.4 L389.1 278.8 L389.2 279.1" fill="none" stroke="#dd8c32" stroke-width="5.17" stroke-linecap="round"/>
<path d="M379.6 270.9 L380.2 271.4 L381.0 272.0 L382.0 272.7 L383.0 273.4 L384.1 274.1 L385.2 274.8 L386.3 275.5 L387.2 276.1 L388.0 276.8 L388.7 277.3" fill="none" stroke="#e8b479" stroke-width="1.55" stroke-linecap="round" opacity="0.8"/>
<path d="M375.4 278.7 L375.4 279.0 L375.7 279.4 L376.2 279.9 L376.8 280.4 L377.6 281.0 L378.6 281.7 L379.6 282.4 L380.7 283.1 L381.8 283.8 L382.8 284.5 L383.8 285.1 L384.6 285.8 L385.3 286.3 L385.7 286.8 L386.0 287.2 L386.0 287.5" fill="none" stroke="#dd8c32" stroke-width="5.17" stroke-linecap="round"/>
<path d="M376.4 279.2 L377.1 279.7 L377.9 280.4 L378.8 281.0 L379.9 281.7 L381.0 282.4 L382.0 283.1 L383.1 283.8 L384.0 284.5 L384.9 285.1 L385.5 285.6" fill="none" stroke="#e8b479" stroke-width="1.55" stroke-linecap="round" opacity="0.8"/>
<path d="M372.3 287.0 L372.3 287.3 L372.5 287.7 L373.0 288.2 L373.6 288.7 L374.5 289.4 L375.4 290.0 L376.5 290.7 L377.5 291.4 L378.6 292.1 L379.7 292.8 L380.6 293.5 L381.4 294.1 L382.1 294.6 L382.6 295.1 L382.8 295.5 L382.8 295.8" fill="none" stroke="#dd8c32" stroke-width="5.17" stroke-linecap="round"/>
<path d="M373.2 287.5 L373.9 288.1 L374.7 288.7 L375.7 289.3 L376.7 290.0 L377.8 290.8 L378.9 291.5 L379.9 292.2 L380.9 292.8 L381.7 293.4 L382.4 294.0" fill="none" stroke="#e8b479" stroke-width="1.55" stroke-linecap="round" opacity="0.8"/>
<path d="M369.1 295.4 L369.1 295.7 L369.4 296.1 L369.8 296.5 L370.5 297.1 L371.3 297.7 L372.2 298.3 L373.3 299.0 L374.4 299.8 L375.5 300.5 L376.5 301.2 L377.5 301.8 L378.3 302.4 L378.9 303.0 L379.4 303.4 L379.6 303.8 L379.7 304.1" fill="none" stroke="#dd8c32" stroke-width="5.17" stroke-linecap="round"/>
<path d="M370.1 295.9 L370.7 296.4 L371.5 297.0 L372.5 297.7 L373.5 298.4 L374.6 299.1 L375.7 299.8 L376.8 300.5 L377.7 301.1 L378.5 301.8 L379.2 302.3" fill="none" stroke="#e8b479" stroke-width="1.55" stroke-linecap="round" opacity="0.8"/>
<path d="M394 342 C392 346 393 350 397 351 C400 351 403 349 405 346" fill="none" stroke="#d32424" stroke-width="1.3"/>
<path d="M389.7 298.7 L389.4 298.9 L389.0 298.9 L388.4 298.7 L387.6 298.4 L386.8 298.0 L385.8 297.4 L384.8 296.9 L383.8 296.2 L382.7 295.6 L381.7 295.1 L380.7 294.5 L379.9 294.1 L379.1 293.8 L378.5 293.6 L378.1 293.6 L377.8 293.8" fill="none" stroke="#a81414" stroke-width="4.16" stroke-linecap="round"/>
<path d="M382.7 305.7 L382.4 305.9 L382.0 305.9 L381.4 305.7 L380.6 305.4 L379.8 305.0 L378.8 304.4 L377.8 303.9 L376.8 303.2 L375.7 302.6 L374.7 302.1 L373.7 301.5 L372.9 301.1 L372.1 300.8 L371.5 300.6 L371.1 300.6 L370.8 300.8" fill="none" stroke="#a81414" stroke-width="4.16" stroke-linecap="round"/>
<path d="M375.7 312.7 L375.4 312.9 L375.0 312.9 L374.4 312.7 L373.6 312.4 L372.8 312.0 L371.8 311.4 L370.8 310.9 L369.8 310.2 L368.7 309.6 L367.7 309.1 L366.7 308.5 L365.9 308.1 L365.1 307.8 L364.5 307.6 L364.1 307.6 L363.8 307.8" fill="none" stroke="#a81414" stroke-width="4.16" stroke-linecap="round"/>
<path d="M384.8 286.8 L384.6 287.1 L384.6 287.5 L384.8 288.1 L385.1 288.9 L385.5 289.7 L386.1 290.7 L386.6 291.7 L387.2 292.8 L387.9 293.8 L388.4 294.8 L389.0 295.8 L389.4 296.6 L389.7 297.4 L389.9 298.0 L389.9 298.4 L389.7 298.7" fill="none" stroke="#d92828" stroke-width="5.74" stroke-linecap="round"/>
<path d="M385.4 287.6 L385.7 288.3 L386.1 289.2 L386.6 290.1 L387.2 291.1 L387.8 292.2 L388.4 293.2 L389.0 294.3 L389.5 295.2 L389.9 296.1 L390.2 296.8" fill="none" stroke="#e67373" stroke-width="1.72" stroke-linecap="round" opacity="0.8"/>
<path d="M377.8 293.8 L377.6 294.1 L377.6 294.5 L377.8 295.1 L378.1 295.9 L378.5 296.7 L379.1 297.7 L379.6 298.7 L380.2 299.8 L380.9 300.8 L381.4 301.8 L382.0 302.8 L382.4 303.6 L382.7 304.4 L382.9 305.0 L382.9 305.4 L382.7 305.7" fill="none" stroke="#d92828" stroke-width="5.74" stroke-linecap="round"/>
<path d="M378.4 294.6 L378.7 295.3 L379.1 296.2 L379.6 297.1 L380.2 298.1 L380.8 299.2 L381.4 300.2 L382.0 301.3 L382.5 302.2 L382.9 303.1 L383.2 303.8" fill="none" stroke="#e67373" stroke-width="1.72" stroke-linecap="round" opacity="0.8"/>
<path d="M370.8 300.8 L370.6 301.1 L370.6 301.5 L370.8 302.1 L371.1 302.9 L371.5 303.7 L372.1 304.7 L372.6 305.7 L373.2 306.8 L373.9 307.8 L374.4 308.8 L375.0 309.8 L375.4 310.6 L375.7 311.4 L375.9 312.0 L375.9 312.4 L375.7 312.7" fill="none" stroke="#d92828" stroke-width="5.74" stroke-linecap="round"/>
<path d="M371.4 301.6 L371.7 302.3 L372.1 303.2 L372.6 304.1 L373.2 305.1 L373.8 306.2 L374.4 307.2 L375.0 308.3 L375.5 309.2 L375.9 310.1 L376.2 310.8" fill="none" stroke="#e67373" stroke-width="1.72" stroke-linecap="round" opacity="0.8"/>
<path d="M379.1 314.7 L379.2 315.0 L379.2 315.4 L379.0 316.0 L378.7 316.6 L378.2 317.4 L377.7 318.2 L377.1 319.1 L376.5 320.1 L375.9 321.0 L375.3 321.9 L374.8 322.7 L374.3 323.5 L374.0 324.2 L373.8 324.7 L373.8 325.1 L373.9 325.4" fill="none" stroke="#a81414" stroke-width="3.79" stroke-linecap="round"/>
<path d="M385.1 321.5 L385.2 321.8 L385.2 322.2 L385.0 322.7 L384.7 323.4 L384.2 324.1 L383.7 325.0 L383.1 325.9 L382.5 326.8 L381.9 327.7 L381.3 328.6 L380.8 329.5 L380.3 330.2 L380.0 330.9 L379.8 331.5 L379.8 331.9 L379.9 332.2" fill="none" stroke="#a81414" stroke-width="3.79" stroke-linecap="round"/>
<path d="M391.1 328.2 L391.2 328.5 L391.2 328.9 L391.0 329.5 L390.7 330.1 L390.2 330.9 L389.7 331.7 L389.1 332.6 L388.5 333.6 L387.9 334.5 L387.3 335.4 L386.8 336.2 L386.3 337.0 L386.0 337.7 L385.8 338.2 L385.8 338.6 L385.9 338.9" fill="none" stroke="#a81414" stroke-width="3.79" stroke-linecap="round"/>
<path d="M397.1 335.0 L397.2 335.3 L397.2 335.7 L397.0 336.2 L396.7 336.9 L396.2 337.6 L395.7 338.5 L395.1 339.4 L394.5 340.3 L393.9 341.2 L393.3 342.1 L392.8 343.0 L392.3 343.7 L392.0 344.4 L391.8 345.0 L391.8 345.4 L391.9 345.7" fill="none" stroke="#a81414" stroke-width="3.79" stroke-linecap="round"/>
<path d="M367.9 318.7 L368.2 318.8 L368.6 318.8 L369.1 318.7 L369.8 318.4 L370.7 318.1 L371.6 317.7 L372.5 317.2 L373.5 316.7 L374.5 316.2 L375.4 315.7 L376.3 315.3 L377.2 314.9 L377.9 314.7 L378.4 314.6 L378.8 314.6 L379.1 314.7" fill="none" stroke="#d92828" stroke-width="5.24" stroke-linecap="round"/>
<path d="M368.7 318.1 L369.4 317.9 L370.2 317.5 L371.1 317.1 L372.0 316.6 L373.0 316.1 L374.0 315.6 L375.0 315.2 L375.9 314.8 L376.7 314.4 L377.4 314.2" fill="none" stroke="#e67373" stroke-width="1.57" stroke-linecap="round" opacity="0.8"/>
<path d="M373.9 325.4 L374.2 325.5 L374.6 325.5 L375.1 325.4 L375.8 325.2 L376.7 324.8 L377.6 324.4 L378.5 323.9 L379.5 323.4 L380.5 322.9 L381.4 322.5 L382.3 322.0 L383.2 321.7 L383.9 321.5 L384.4 321.3 L384.8 321.3 L385.1 321.5" fill="none" stroke="#d92828" stroke-width="5.24" stroke-linecap="round"/>
<path d="M374.7 324.9 L375.4 324.6 L376.2 324.3 L377.1 323.9 L378.0 323.4 L379.0 322.9 L380.0 322.4 L381.0 321.9 L381.9 321.5 L382.7 321.2 L383.4 320.9" fill="none" stroke="#e67373" stroke-width="1.57" stroke-linecap="round" opacity="0.8"/>
<path d="M379.9 332.2 L380.2 332.3 L380.6 332.3 L381.1 332.2 L381.8 331.9 L382.7 331.6 L383.6 331.2 L384.5 330.7 L385.5 330.2 L386.5 329.7 L387.4 329.2 L388.3 328.8 L389.2 328.4 L389.9 328.2 L390.4 328.1 L390.8 328.1 L391.1 328.2" fill="none" stroke="#d92828" stroke-width="5.24" stroke-linecap="round"/>
<path d="M380.7 331.6 L381.4 331.4 L382.2 331.0 L383.1 330.6 L384.0 330.1 L385.0 329.6 L386.0 329.1 L387.0 328.7 L387.9 328.3 L388.7 327.9 L389.4 327.7" fill="none" stroke="#e67373" stroke-width="1.57" stroke-linecap="round" opacity="0.8"/>
<path d="M385.9 338.9 L386.2 339.0 L386.6 339.0 L387.1 338.9 L387.8 338.7 L388.7 338.3 L389.6 337.9 L390.5 337.4 L391.5 336.9 L392.5 336.4 L393.4 336.0 L394.3 335.5 L395.2 335.2 L395.9 335.0 L396.4 334.8 L396.8 334.8 L397.1 335.0" fill="none" stroke="#d92828" stroke-width="5.24" stroke-linecap="round"/>
<path d="M386.7 338.4 L387.4 338.1 L388.2 337.8 L389.1 337.4 L390.0 336.9 L391.0 336.4 L392.0 335.9 L393.0 335.4 L393.9 335.0 L394.7 334.7 L395.4 334.4" fill="none" stroke="#e67373" stroke-width="1.57" stroke-linecap="round" opacity="0.8"/>
<path d="M399.8 259.0 L399.7 259.3 L399.4 259.6 L398.8 259.9 L398.0 260.3 L397.0 260.6 L395.9 261.0 L394.7 261.4 L393.5 261.8 L392.3 262.1 L391.1 262.5 L390.0 262.9 L389.0 263.2 L388.2 263.6 L387.6 263.9 L387.3 264.2 L387.2 264.5" fill="none" stroke="#962008" stroke-width="3.79" stroke-linecap="round"/>
<path d="M400.5 268.0 L400.4 268.3 L400.0 268.6 L399.5 268.9 L398.7 269.3 L397.7 269.6 L396.6 270.0 L395.4 270.4 L394.2 270.8 L392.9 271.1 L391.7 271.5 L390.6 271.9 L389.7 272.2 L388.9 272.6 L388.3 272.9 L388.0 273.2 L387.9 273.5" fill="none" stroke="#962008" stroke-width="3.79" stroke-linecap="round"/>
<path d="M401.1 277.0 L401.0 277.3 L400.7 277.6 L400.1 277.9 L399.3 278.3 L398.4 278.6 L397.3 279.0 L396.1 279.4 L394.8 279.8 L393.6 280.1 L392.4 280.5 L391.3 280.9 L390.3 281.2 L389.5 281.6 L389.0 281.9 L388.6 282.2 L388.5 282.5" fill="none" stroke="#962008" stroke-width="3.79" stroke-linecap="round"/>
<path d="M386.5 255.5 L386.7 255.8 L387.1 256.0 L387.7 256.2 L388.5 256.5 L389.5 256.7 L390.6 256.9 L391.9 257.1 L393.2 257.2 L394.5 257.4 L395.7 257.6 L396.8 257.8 L397.8 258.0 L398.7 258.3 L399.3 258.5 L399.7 258.7 L399.8 259.0" fill="none" stroke="#cc3a12" stroke-width="5.23" stroke-linecap="round"/>
<path d="M387.6 255.5 L388.4 255.7 L389.4 256.0 L390.6 256.2 L391.8 256.3 L393.1 256.5 L394.4 256.7 L395.6 256.9 L396.8 257.1 L397.8 257.3 L398.6 257.5" fill="none" stroke="#dd7e64" stroke-width="1.57" stroke-linecap="round" opacity="0.8"/>
<path d="M387.2 264.5 L387.3 264.8 L387.7 265.0 L388.3 265.2 L389.2 265.5 L390.2 265.7 L391.3 265.9 L392.5 266.1 L393.8 266.2 L395.1 266.4 L396.4 266.6 L397.5 266.8 L398.5 267.0 L399.3 267.3 L399.9 267.5 L400.3 267.7 L400.5 268.0" fill="none" stroke="#cc3a12" stroke-width="5.23" stroke-linecap="round"/>
<path d="M388.3 264.5 L389.1 264.7 L390.1 265.0 L391.3 265.2 L392.5 265.3 L393.8 265.5 L395.1 265.7 L396.3 265.9 L397.4 266.1 L398.4 266.3 L399.3 266.5" fill="none" stroke="#dd7e64" stroke-width="1.57" stroke-linecap="round" opacity="0.8"/>
<path d="M387.9 273.5 L388.0 273.8 L388.4 274.0 L389.0 274.2 L389.8 274.5 L390.8 274.7 L392.0 274.9 L393.2 275.1 L394.5 275.2 L395.8 275.4 L397.0 275.6 L398.2 275.8 L399.2 276.0 L400.0 276.3 L400.6 276.5 L401.0 276.7 L401.1 277.0" fill="none" stroke="#cc3a12" stroke-width="5.23" stroke-linecap="round"/>
<path d="M389.0 273.5 L389.8 273.7 L390.8 274.0 L391.9 274.2 L393.2 274.3 L394.4 274.5 L395.7 274.7 L397.0 274.9 L398.1 275.1 L399.1 275.3 L399.9 275.5" fill="none" stroke="#dd7e64" stroke-width="1.57" stroke-linecap="round" opacity="0.8"/>
<path d="M391.9 239.1 L392.0 239.3 L391.9 239.8 L391.7 240.4 L391.2 241.2 L390.7 242.2 L390.0 243.2 L389.3 244.3 L388.5 245.5 L387.7 246.7 L387.0 247.8 L386.3 248.8 L385.8 249.8 L385.3 250.6 L385.1 251.2 L385.0 251.7 L385.1 251.9" fill="none" stroke="#8a2806" stroke-width="3.56" stroke-linecap="round"/>
<path d="M397.9 245.1 L398.0 245.3 L397.9 245.8 L397.7 246.4 L397.2 247.2 L396.7 248.2 L396.0 249.2 L395.3 250.3 L394.5 251.5 L393.7 252.7 L393.0 253.8 L392.3 254.8 L391.8 255.8 L391.3 256.6 L391.1 257.2 L391.0 257.7 L391.1 257.9" fill="none" stroke="#8a2806" stroke-width="3.56" stroke-linecap="round"/>
<path d="M403.9 251.1 L404.0 251.3 L403.9 251.8 L403.7 252.4 L403.2 253.2 L402.7 254.2 L402.0 255.2 L401.3 256.3 L400.5 257.5 L399.7 258.7 L399.0 259.8 L398.3 260.8 L397.8 261.8 L397.3 262.6 L397.1 263.2 L397.0 263.7 L397.1 263.9" fill="none" stroke="#8a2806" stroke-width="3.56" stroke-linecap="round"/>
<path d="M379.1 245.9 L379.3 246.0 L379.8 245.9 L380.4 245.7 L381.2 245.2 L382.2 244.7 L383.2 244.0 L384.3 243.3 L385.5 242.5 L386.7 241.7 L387.8 241.0 L388.8 240.3 L389.8 239.8 L390.6 239.3 L391.2 239.1 L391.7 239.0 L391.9 239.1" fill="none" stroke="#c84814" stroke-width="4.92" stroke-linecap="round"/>
<path d="M380.0 245.2 L380.8 244.8 L381.7 244.2 L382.8 243.5 L383.9 242.8 L385.0 242.0 L386.2 241.2 L387.3 240.5 L388.3 239.8 L389.3 239.3 L390.1 238.8" fill="none" stroke="#db8866" stroke-width="1.48" stroke-linecap="round" opacity="0.8"/>
<path d="M385.1 251.9 L385.3 252.0 L385.8 251.9 L386.4 251.7 L387.2 251.2 L388.2 250.7 L389.2 250.0 L390.3 249.3 L391.5 248.5 L392.7 247.7 L393.8 247.0 L394.8 246.3 L395.8 245.8 L396.6 245.3 L397.2 245.1 L397.7 245.0 L397.9 245.1" fill="none" stroke="#c84814" stroke-width="4.92" stroke-linecap="round"/>
<path d="M386.0 251.2 L386.8 250.8 L387.7 250.2 L388.8 249.5 L389.9 248.8 L391.0 248.0 L392.2 247.2 L393.3 246.5 L394.3 245.8 L395.3 245.3 L396.1 244.8" fill="none" stroke="#db8866" stroke-width="1.48" stroke-linecap="round" opacity="0.8"/>
<path d="M391.1 257.9 L391.3 258.0 L391.8 257.9 L392.4 257.7 L393.2 257.2 L394.2 256.7 L395.2 256.0 L396.3 255.3 L397.5 254.5 L398.7 253.7 L399.8 253.0 L400.8 252.3 L401.8 251.8 L402.6 251.3 L403.2 251.1 L403.7 251.0 L403.9 251.1" fill="none" stroke="#c84814" stroke-width="4.92" stroke-linecap="round"/>
<path d="M392.0 257.2 L392.8 256.8 L393.7 256.2 L394.8 255.5 L395.9 254.8 L397.0 254.0 L398.2 253.2 L399.3 252.5 L400.3 251.8 L401.3 251.3 L402.1 250.8" fill="none" stroke="#db8866" stroke-width="1.48" stroke-linecap="round" opacity="0.8"/>
<path d="M394.6 225.9 L394.8 225.8 L395.3 225.9 L395.8 226.1 L396.5 226.5 L397.4 226.9 L398.3 227.5 L399.2 228.1 L400.2 228.8 L401.3 229.4 L402.2 230.0 L403.1 230.6 L404.0 231.0 L404.7 231.4 L405.2 231.6 L405.7 231.7 L405.9 231.6" fill="none" stroke="#a83a08" stroke-width="3.37" stroke-linecap="round"/>
<path d="M400.3 220.3 L400.5 220.2 L400.9 220.2 L401.5 220.4 L402.2 220.8 L403.0 221.3 L403.9 221.8 L404.9 222.4 L405.9 223.1 L406.9 223.7 L407.9 224.4 L408.8 224.9 L409.6 225.4 L410.3 225.7 L410.9 225.9 L411.3 226.0 L411.6 225.9" fill="none" stroke="#a83a08" stroke-width="3.37" stroke-linecap="round"/>
<path d="M405.9 214.6 L406.2 214.5 L406.6 214.6 L407.2 214.8 L407.9 215.1 L408.7 215.6 L409.6 216.1 L410.6 216.8 L411.6 217.4 L412.6 218.1 L413.6 218.7 L414.5 219.2 L415.3 219.7 L416.0 220.1 L416.6 220.3 L417.0 220.3 L417.2 220.2" fill="none" stroke="#a83a08" stroke-width="3.37" stroke-linecap="round"/>
<path d="M400.2 237.2 L400.3 237.0 L400.3 236.6 L400.1 236.0 L399.7 235.3 L399.2 234.5 L398.7 233.6 L398.1 232.6 L397.4 231.6 L396.8 230.6 L396.1 229.6 L395.6 228.7 L395.1 227.9 L394.8 227.2 L394.6 226.6 L394.5 226.2 L394.6 225.9" fill="none" stroke="#d86020" stroke-width="4.65" stroke-linecap="round"/>
<path d="M399.6 236.4 L399.3 235.7 L398.8 234.9 L398.2 234.0 L397.6 233.0 L397.0 232.0 L396.3 231.0 L395.7 230.1 L395.1 229.1 L394.7 228.3 L394.3 227.6" fill="none" stroke="#e5976e" stroke-width="1.39" stroke-linecap="round" opacity="0.8"/>
<path d="M405.9 231.6 L406.0 231.3 L405.9 230.9 L405.7 230.3 L405.4 229.6 L404.9 228.8 L404.4 227.9 L403.7 226.9 L403.1 225.9 L402.4 224.9 L401.8 223.9 L401.3 223.0 L400.8 222.2 L400.4 221.5 L400.2 220.9 L400.2 220.5 L400.3 220.3" fill="none" stroke="#d86020" stroke-width="4.65" stroke-linecap="round"/>
<path d="M405.3 230.8 L404.9 230.1 L404.5 229.3 L403.9 228.3 L403.3 227.4 L402.6 226.4 L402.0 225.4 L401.4 224.4 L400.8 223.5 L400.3 222.7 L400.0 222.0" fill="none" stroke="#e5976e" stroke-width="1.39" stroke-linecap="round" opacity="0.8"/>
<path d="M411.6 225.9 L411.7 225.7 L411.6 225.2 L411.4 224.7 L411.0 224.0 L410.6 223.1 L410.0 222.2 L409.4 221.3 L408.8 220.2 L408.1 219.2 L407.5 218.3 L406.9 217.4 L406.5 216.5 L406.1 215.8 L405.9 215.3 L405.8 214.8 L405.9 214.6" fill="none" stroke="#d86020" stroke-width="4.65" stroke-linecap="round"/>
<path d="M410.9 225.1 L410.6 224.4 L410.1 223.6 L409.6 222.7 L408.9 221.7 L408.3 220.7 L407.6 219.7 L407.0 218.7 L406.5 217.8 L406.0 217.0 L405.7 216.3" fill="none" stroke="#e5976e" stroke-width="1.39" stroke-linecap="round" opacity="0.8"/>
<path d="M396 219 C397 214 401 213 404 216" fill="none" stroke="#d86020" stroke-width="1.4"/>
<circle cx="413" cy="212" r="2.6" fill="none" stroke="#e0702a" stroke-width="1.2"/>
<path d="M393 320 C392 327 398 331 405 330 C410 329 413 326 414 322" fill="none" stroke="#7cc8d8" stroke-width="1.1"/>
<path d="M410.4 266.2 L410.5 266.5 L410.5 267.0 L410.2 267.6 L409.8 268.5 L409.3 269.6 L408.7 270.7 L408.1 272.0 L407.4 273.3 L406.6 274.6 L406.0 275.9 L405.4 277.0 L404.9 278.1 L404.5 279.0 L404.2 279.6 L404.2 280.1 L404.3 280.4" fill="none" stroke="#3e9048" stroke-width="3.06" stroke-linecap="round"/>
<path d="M416.2 270.6 L416.3 270.9 L416.3 271.4 L416.0 272.0 L415.6 272.9 L415.1 274.0 L414.5 275.1 L413.9 276.4 L413.1 277.7 L412.4 279.0 L411.8 280.3 L411.2 281.4 L410.7 282.5 L410.3 283.4 L410.0 284.0 L410.0 284.5 L410.1 284.8" fill="none" stroke="#3e9048" stroke-width="3.06" stroke-linecap="round"/>
<path d="M422.0 275.0 L422.1 275.3 L422.1 275.8 L421.8 276.4 L421.4 277.3 L420.9 278.4 L420.3 279.5 L419.7 280.8 L418.9 282.1 L418.2 283.4 L417.6 284.7 L417.0 285.8 L416.5 286.9 L416.1 287.8 L415.8 288.4 L415.8 288.9 L415.9 289.2" fill="none" stroke="#3e9048" stroke-width="3.06" stroke-linecap="round"/>
<path d="M427.8 279.4 L427.9 279.7 L427.9 280.2 L427.6 280.8 L427.2 281.7 L426.7 282.8 L426.1 283.9 L425.5 285.2 L424.8 286.5 L424.0 287.8 L423.4 289.1 L422.8 290.2 L422.3 291.3 L421.9 292.2 L421.6 292.8 L421.6 293.3 L421.7 293.6" fill="none" stroke="#3e9048" stroke-width="3.06" stroke-linecap="round"/>
<path d="M433.6 283.8 L433.7 284.1 L433.7 284.6 L433.4 285.2 L433.0 286.1 L432.5 287.2 L431.9 288.3 L431.3 289.6 L430.6 290.9 L429.8 292.2 L429.2 293.5 L428.6 294.6 L428.1 295.7 L427.7 296.6 L427.4 297.2 L427.4 297.7 L427.5 298.0" fill="none" stroke="#3e9048" stroke-width="3.06" stroke-linecap="round"/>
<path d="M398.5 276.0 L398.7 276.0 L399.2 275.8 L399.8 275.4 L400.5 274.8 L401.4 274.0 L402.4 273.1 L403.4 272.1 L404.4 271.1 L405.5 270.1 L406.5 269.1 L407.5 268.2 L408.4 267.4 L409.1 266.8 L409.7 266.4 L410.2 266.2 L410.4 266.2" fill="none" stroke="#62c068" stroke-width="4.22" stroke-linecap="round"/>
<path d="M399.3 275.0 L400.1 274.4 L400.9 273.7 L401.9 272.8 L402.9 271.8 L404.0 270.7 L405.1 269.7 L406.1 268.7 L407.0 267.8 L407.9 267.1 L408.7 266.5" fill="none" stroke="#98d69c" stroke-width="1.27" stroke-linecap="round" opacity="0.8"/>
<path d="M404.3 280.4 L404.5 280.4 L405.0 280.2 L405.6 279.8 L406.3 279.2 L407.2 278.4 L408.2 277.5 L409.2 276.5 L410.2 275.5 L411.3 274.5 L412.3 273.5 L413.3 272.6 L414.2 271.8 L414.9 271.2 L415.5 270.8 L416.0 270.6 L416.2 270.6" fill="none" stroke="#62c068" stroke-width="4.22" stroke-linecap="round"/>
<path d="M405.1 279.4 L405.9 278.8 L406.7 278.1 L407.7 277.2 L408.7 276.2 L409.8 275.1 L410.9 274.1 L411.9 273.1 L412.8 272.2 L413.7 271.5 L414.5 270.9" fill="none" stroke="#98d69c" stroke-width="1.27" stroke-linecap="round" opacity="0.8"/>
<path d="M410.1 284.8 L410.3 284.8 L410.8 284.6 L411.4 284.2 L412.1 283.6 L413.0 282.8 L414.0 281.9 L415.0 280.9 L416.1 279.9 L417.1 278.9 L418.1 277.9 L419.1 277.0 L420.0 276.2 L420.7 275.6 L421.3 275.2 L421.8 275.0 L422.0 275.0" fill="none" stroke="#62c068" stroke-width="4.22" stroke-linecap="round"/>
<path d="M410.9 283.8 L411.7 283.2 L412.5 282.5 L413.5 281.6 L414.5 280.6 L415.6 279.5 L416.7 278.5 L417.7 277.5 L418.6 276.6 L419.5 275.9 L420.3 275.3" fill="none" stroke="#98d69c" stroke-width="1.27" stroke-linecap="round" opacity="0.8"/>
<path d="M415.9 289.2 L416.1 289.2 L416.6 289.0 L417.2 288.6 L417.9 288.0 L418.8 287.2 L419.8 286.3 L420.8 285.3 L421.9 284.3 L422.9 283.3 L423.9 282.3 L424.9 281.4 L425.8 280.6 L426.5 280.0 L427.1 279.6 L427.6 279.4 L427.8 279.4" fill="none" stroke="#62c068" stroke-width="4.22" stroke-linecap="round"/>
<path d="M416.7 288.2 L417.5 287.6 L418.3 286.9 L419.3 286.0 L420.3 285.0 L421.4 283.9 L422.5 282.9 L423.5 281.9 L424.4 281.0 L425.3 280.3 L426.1 279.7" fill="none" stroke="#98d69c" stroke-width="1.27" stroke-linecap="round" opacity="0.8"/>
<path d="M421.7 293.6 L421.9 293.6 L422.4 293.4 L423.0 293.0 L423.7 292.4 L424.6 291.6 L425.6 290.7 L426.6 289.7 L427.6 288.7 L428.7 287.7 L429.7 286.7 L430.7 285.8 L431.6 285.0 L432.3 284.4 L432.9 284.0 L433.4 283.8 L433.6 283.8" fill="none" stroke="#62c068" stroke-width="4.22" stroke-linecap="round"/>
<path d="M422.5 292.6 L423.3 292.0 L424.1 291.3 L425.1 290.4 L426.1 289.4 L427.2 288.3 L428.3 287.3 L429.3 286.3 L430.2 285.4 L431.1 284.7 L431.9 284.1" fill="none" stroke="#98d69c" stroke-width="1.27" stroke-linecap="round" opacity="0.8"/>
<path d="M435.2 270.1 L435.4 270.3 L435.5 270.7 L435.5 271.4 L435.4 272.2 L435.3 273.1 L435.0 274.2 L434.8 275.3 L434.5 276.5 L434.2 277.7 L434.0 278.8 L433.7 279.9 L433.6 280.8 L433.5 281.6 L433.5 282.3 L433.6 282.7 L433.8 282.9" fill="none" stroke="#58a840" stroke-width="4.13" stroke-linecap="round"/>
<path d="M443.8 274.7 L444.1 275.0 L444.2 275.4 L444.2 276.0 L444.1 276.8 L443.9 277.8 L443.7 278.9 L443.5 280.0 L443.2 281.2 L442.9 282.3 L442.6 283.5 L442.4 284.5 L442.2 285.5 L442.2 286.3 L442.2 286.9 L442.3 287.4 L442.5 287.6" fill="none" stroke="#58a840" stroke-width="4.13" stroke-linecap="round"/>
<path d="M452.5 279.4 L452.7 279.6 L452.8 280.1 L452.8 280.7 L452.8 281.5 L452.6 282.5 L452.4 283.5 L452.1 284.7 L451.8 285.8 L451.5 287.0 L451.3 288.1 L451.1 289.2 L450.9 290.2 L450.8 291.0 L450.8 291.6 L450.9 292.0 L451.2 292.3" fill="none" stroke="#58a840" stroke-width="4.13" stroke-linecap="round"/>
<path d="M425.2 278.3 L425.5 278.3 L425.9 278.2 L426.4 277.8 L427.1 277.3 L427.8 276.7 L428.5 275.9 L429.3 275.1 L430.2 274.2 L431.0 273.3 L431.8 272.4 L432.6 271.7 L433.3 271.0 L433.9 270.5 L434.4 270.2 L434.9 270.0 L435.2 270.1" fill="none" stroke="#86d468" stroke-width="5.71" stroke-linecap="round"/>
<path d="M425.8 277.5 L426.4 276.9 L427.1 276.3 L427.8 275.5 L428.6 274.7 L429.5 273.8 L430.3 272.9 L431.1 272.1 L431.9 271.3 L432.6 270.6 L433.2 270.1" fill="none" stroke="#b0e39c" stroke-width="1.71" stroke-linecap="round" opacity="0.8"/>
<path d="M433.8 282.9 L434.1 283.0 L434.6 282.8 L435.1 282.5 L435.7 282.0 L436.4 281.3 L437.2 280.6 L438.0 279.7 L438.8 278.8 L439.7 277.9 L440.5 277.1 L441.2 276.3 L441.9 275.7 L442.6 275.2 L443.1 274.8 L443.5 274.7 L443.8 274.7" fill="none" stroke="#86d468" stroke-width="5.71" stroke-linecap="round"/>
<path d="M434.4 282.1 L435.0 281.6 L435.7 281.0 L436.5 280.2 L437.3 279.3 L438.1 278.5 L439.0 277.6 L439.8 276.7 L440.5 276.0 L441.2 275.3 L441.9 274.8" fill="none" stroke="#b0e39c" stroke-width="1.71" stroke-linecap="round" opacity="0.8"/>
<path d="M442.5 287.6 L442.8 287.7 L443.2 287.5 L443.8 287.2 L444.4 286.7 L445.1 286.0 L445.9 285.2 L446.7 284.4 L447.5 283.5 L448.3 282.6 L449.1 281.8 L449.9 281.0 L450.6 280.3 L451.2 279.8 L451.8 279.5 L452.2 279.3 L452.5 279.4" fill="none" stroke="#86d468" stroke-width="5.71" stroke-linecap="round"/>
<path d="M443.1 286.8 L443.7 286.3 L444.4 285.6 L445.2 284.9 L446.0 284.0 L446.8 283.1 L447.6 282.2 L448.4 281.4 L449.2 280.6 L449.9 280.0 L450.5 279.5" fill="none" stroke="#b0e39c" stroke-width="1.71" stroke-linecap="round" opacity="0.8"/>
<path d="M416.2 274.0 L416.1 274.3 L415.7 274.6 L415.0 275.0 L414.0 275.6 L412.8 276.1 L411.5 276.8 L410.0 277.4 L408.5 278.1 L407.0 278.8 L405.5 279.4 L404.2 280.1 L403.0 280.6 L402.0 281.2 L401.3 281.6 L400.9 281.9 L400.8 282.2" fill="none" stroke="#2f7868" stroke-width="2.98" stroke-linecap="round"/>
<path d="M418.2 280.8 L418.1 281.1 L417.7 281.4 L417.0 281.8 L416.0 282.4 L414.8 282.9 L413.5 283.6 L412.0 284.2 L410.5 284.9 L409.0 285.6 L407.5 286.2 L406.2 286.9 L405.0 287.4 L404.0 288.0 L403.3 288.4 L402.9 288.7 L402.8 289.0" fill="none" stroke="#2f7868" stroke-width="2.98" stroke-linecap="round"/>
<path d="M420.2 287.6 L420.1 287.9 L419.7 288.2 L419.0 288.6 L418.0 289.2 L416.8 289.7 L415.5 290.4 L414.0 291.0 L412.5 291.7 L411.0 292.4 L409.5 293.0 L408.2 293.7 L407.0 294.2 L406.0 294.8 L405.3 295.2 L404.9 295.5 L404.8 295.8" fill="none" stroke="#2f7868" stroke-width="2.98" stroke-linecap="round"/>
<path d="M422.2 294.4 L422.1 294.7 L421.7 295.0 L421.0 295.4 L420.0 296.0 L418.8 296.5 L417.5 297.2 L416.0 297.8 L414.5 298.5 L413.0 299.2 L411.5 299.8 L410.2 300.5 L409.0 301.0 L408.0 301.6 L407.3 302.0 L406.9 302.3 L406.8 302.6" fill="none" stroke="#2f7868" stroke-width="2.98" stroke-linecap="round"/>
<path d="M424.2 301.2 L424.1 301.5 L423.7 301.8 L423.0 302.2 L422.0 302.8 L420.8 303.3 L419.5 304.0 L418.0 304.6 L416.5 305.3 L415.0 306.0 L413.5 306.6 L412.2 307.3 L411.0 307.8 L410.0 308.4 L409.3 308.8 L408.9 309.1 L408.8 309.4" fill="none" stroke="#2f7868" stroke-width="2.98" stroke-linecap="round"/>
<path d="M398.8 275.4 L399.1 275.6 L399.6 275.6 L400.4 275.6 L401.5 275.5 L402.8 275.4 L404.3 275.2 L405.8 275.0 L407.5 274.7 L409.2 274.4 L410.7 274.2 L412.2 274.0 L413.5 273.9 L414.6 273.8 L415.4 273.8 L415.9 273.8 L416.2 274.0" fill="none" stroke="#56a898" stroke-width="4.11" stroke-linecap="round"/>
<path d="M400.2 275.1 L401.3 275.0 L402.6 274.9 L404.1 274.6 L405.7 274.4 L407.3 274.2 L409.0 273.9 L410.6 273.7 L412.1 273.5 L413.4 273.3 L414.4 273.2" fill="none" stroke="#91c6bc" stroke-width="1.23" stroke-linecap="round" opacity="0.8"/>
<path d="M400.8 282.2 L401.1 282.4 L401.6 282.4 L402.4 282.4 L403.5 282.3 L404.8 282.2 L406.3 282.0 L407.8 281.8 L409.5 281.5 L411.2 281.2 L412.7 281.0 L414.2 280.8 L415.5 280.7 L416.6 280.6 L417.4 280.6 L417.9 280.6 L418.2 280.8" fill="none" stroke="#56a898" stroke-width="4.11" stroke-linecap="round"/>
<path d="M402.2 281.9 L403.3 281.8 L404.6 281.7 L406.1 281.4 L407.7 281.2 L409.3 281.0 L411.0 280.7 L412.6 280.5 L414.1 280.3 L415.4 280.1 L416.4 280.0" fill="none" stroke="#91c6bc" stroke-width="1.23" stroke-linecap="round" opacity="0.8"/>
<path d="M402.8 289.0 L403.1 289.2 L403.6 289.2 L404.4 289.2 L405.5 289.1 L406.8 289.0 L408.3 288.8 L409.8 288.6 L411.5 288.3 L413.2 288.0 L414.7 287.8 L416.2 287.6 L417.5 287.5 L418.6 287.4 L419.4 287.4 L419.9 287.4 L420.2 287.6" fill="none" stroke="#56a898" stroke-width="4.11" stroke-linecap="round"/>
<path d="M404.2 288.7 L405.3 288.6 L406.6 288.5 L408.1 288.2 L409.7 288.0 L411.3 287.8 L413.0 287.5 L414.6 287.3 L416.1 287.1 L417.4 286.9 L418.4 286.8" fill="none" stroke="#91c6bc" stroke-width="1.23" stroke-linecap="round" opacity="0.8"/>
<path d="M404.8 295.8 L405.1 296.0 L405.6 296.0 L406.4 296.0 L407.5 295.9 L408.8 295.8 L410.3 295.6 L411.8 295.4 L413.5 295.1 L415.2 294.8 L416.7 294.6 L418.2 294.4 L419.5 294.3 L420.6 294.2 L421.4 294.2 L421.9 294.2 L422.2 294.4" fill="none" stroke="#56a898" stroke-width="4.11" stroke-linecap="round"/>
<path d="M406.2 295.5 L407.3 295.4 L408.6 295.3 L410.1 295.0 L411.7 294.8 L413.3 294.6 L415.0 294.3 L416.6 294.1 L418.1 293.9 L419.4 293.7 L420.4 293.6" fill="none" stroke="#91c6bc" stroke-width="1.23" stroke-linecap="round" opacity="0.8"/>
<path d="M406.8 302.6 L407.1 302.8 L407.6 302.8 L408.4 302.8 L409.5 302.7 L410.8 302.6 L412.3 302.4 L413.8 302.2 L415.5 301.9 L417.2 301.6 L418.7 301.4 L420.2 301.2 L421.5 301.1 L422.6 301.0 L423.4 301.0 L423.9 301.0 L424.2 301.2" fill="none" stroke="#56a898" stroke-width="4.11" stroke-linecap="round"/>
<path d="M408.2 302.3 L409.3 302.2 L410.6 302.1 L412.1 301.8 L413.7 301.6 L415.3 301.4 L417.0 301.1 L418.6 300.9 L420.1 300.7 L421.4 300.5 L422.4 300.4" fill="none" stroke="#91c6bc" stroke-width="1.23" stroke-linecap="round" opacity="0.8"/>
<path d="M406.8 269.8 L406.7 270.1 L406.2 270.4 L405.5 270.8 L404.4 271.1 L403.2 271.5 L401.7 271.9 L400.2 272.3 L398.5 272.8 L396.9 273.2 L395.3 273.6 L393.9 274.0 L392.6 274.4 L391.6 274.7 L390.8 275.1 L390.4 275.4 L390.2 275.7" fill="none" stroke="#20419c" stroke-width="3.79" stroke-linecap="round"/>
<path d="M407.5 278.8 L407.4 279.1 L406.9 279.4 L406.2 279.8 L405.2 280.1 L403.9 280.5 L402.4 280.9 L400.9 281.3 L399.2 281.8 L397.6 282.2 L396.1 282.6 L394.6 283.0 L393.3 283.4 L392.3 283.7 L391.6 284.1 L391.1 284.4 L391.0 284.7" fill="none" stroke="#284ba1" stroke-width="3.79" stroke-linecap="round"/>
<path d="M408.3 287.8 L408.1 288.1 L407.7 288.4 L406.9 288.8 L405.9 289.1 L404.6 289.5 L403.2 289.9 L401.6 290.3 L400.0 290.8 L398.3 291.2 L396.8 291.6 L395.3 292.0 L394.1 292.4 L393.0 292.7 L392.3 293.1 L391.8 293.4 L391.7 293.7" fill="none" stroke="#3056a5" stroke-width="3.79" stroke-linecap="round"/>
<path d="M409.0 296.8 L408.8 297.1 L408.4 297.4 L407.6 297.8 L406.6 298.1 L405.3 298.5 L403.9 298.9 L402.3 299.3 L400.7 299.8 L399.0 300.2 L397.5 300.6 L396.0 301.0 L394.8 301.4 L393.7 301.7 L393.0 302.1 L392.5 302.4 L392.4 302.7" fill="none" stroke="#3860aa" stroke-width="3.79" stroke-linecap="round"/>
<path d="M409.7 305.8 L409.5 306.1 L409.1 306.4 L408.3 306.8 L407.3 307.1 L406.0 307.5 L404.6 307.9 L403.0 308.3 L401.4 308.8 L399.8 309.2 L398.2 309.6 L396.8 310.0 L395.5 310.4 L394.5 310.7 L393.7 311.1 L393.2 311.4 L393.1 311.7" fill="none" stroke="#406aaf" stroke-width="3.79" stroke-linecap="round"/>
<path d="M410.4 314.8 L410.3 315.1 L409.8 315.4 L409.0 315.8 L408.0 316.1 L406.7 316.5 L405.3 316.9 L403.7 317.3 L402.1 317.8 L400.5 318.2 L398.9 318.6 L397.5 319.0 L396.2 319.4 L395.2 319.7 L394.4 320.1 L394.0 320.4 L393.8 320.7" fill="none" stroke="#4874b4" stroke-width="3.79" stroke-linecap="round"/>
<path d="M411.1 323.8 L411.0 324.1 L410.5 324.4 L409.8 324.8 L408.7 325.1 L407.5 325.5 L406.0 325.9 L404.5 326.3 L402.8 326.8 L401.2 327.2 L399.6 327.6 L398.2 328.0 L396.9 328.4 L395.9 328.7 L395.1 329.1 L394.7 329.4 L394.5 329.7" fill="none" stroke="#507eb8" stroke-width="3.79" stroke-linecap="round"/>
<path d="M389.5 266.7 L389.7 266.9 L390.2 267.2 L391.0 267.4 L392.1 267.6 L393.4 267.8 L394.9 267.9 L396.5 268.1 L398.2 268.2 L399.9 268.4 L401.5 268.6 L403.0 268.7 L404.3 268.9 L405.3 269.1 L406.1 269.3 L406.6 269.6 L406.8 269.8" fill="none" stroke="#2654cb" stroke-width="5.24" stroke-linecap="round"/>
<path d="M391.0 266.7 L392.0 266.9 L393.3 267.1 L394.8 267.2 L396.4 267.4 L398.1 267.5 L399.8 267.7 L401.4 267.8 L402.9 268.0 L404.2 268.2 L405.3 268.4" fill="none" stroke="#718fdd" stroke-width="1.57" stroke-linecap="round" opacity="0.8"/>
<path d="M390.2 275.7 L390.4 275.9 L390.9 276.2 L391.7 276.4 L392.8 276.6 L394.1 276.8 L395.6 276.9 L397.2 277.1 L398.9 277.2 L400.6 277.4 L402.2 277.6 L403.7 277.7 L405.0 277.9 L406.0 278.1 L406.9 278.3 L407.4 278.6 L407.5 278.8" fill="none" stroke="#305fcb" stroke-width="5.24" stroke-linecap="round"/>
<path d="M391.7 275.7 L392.8 275.9 L394.1 276.1 L395.5 276.2 L397.2 276.4 L398.8 276.5 L400.5 276.7 L402.1 276.8 L403.6 277.0 L404.9 277.2 L406.0 277.4" fill="none" stroke="#7897dd" stroke-width="1.57" stroke-linecap="round" opacity="0.8"/>
<path d="M391.0 284.7 L391.1 284.9 L391.6 285.2 L392.5 285.4 L393.5 285.6 L394.8 285.8 L396.3 285.9 L397.9 286.1 L399.6 286.2 L401.3 286.4 L402.9 286.6 L404.4 286.7 L405.7 286.9 L406.8 287.1 L407.6 287.3 L408.1 287.6 L408.3 287.8" fill="none" stroke="#3a6bca" stroke-width="5.24" stroke-linecap="round"/>
<path d="M392.4 284.7 L393.5 284.9 L394.8 285.1 L396.3 285.2 L397.9 285.4 L399.5 285.5 L401.2 285.7 L402.8 285.8 L404.3 286.0 L405.6 286.2 L406.7 286.4" fill="none" stroke="#7e9edc" stroke-width="1.57" stroke-linecap="round" opacity="0.8"/>
<path d="M391.7 293.7 L391.9 293.9 L392.4 294.2 L393.2 294.4 L394.2 294.6 L395.5 294.8 L397.0 294.9 L398.6 295.1 L400.3 295.2 L402.0 295.4 L403.6 295.6 L405.1 295.7 L406.4 295.9 L407.5 296.1 L408.3 296.3 L408.8 296.6 L409.0 296.8" fill="none" stroke="#4476ca" stroke-width="5.24" stroke-linecap="round"/>
<path d="M393.1 293.7 L394.2 293.9 L395.5 294.1 L397.0 294.2 L398.6 294.4 L400.3 294.5 L401.9 294.7 L403.6 294.8 L405.0 295.0 L406.3 295.2 L407.4 295.4" fill="none" stroke="#85a5dc" stroke-width="1.57" stroke-linecap="round" opacity="0.8"/>
<path d="M392.4 302.7 L392.6 302.9 L393.1 303.2 L393.9 303.4 L395.0 303.6 L396.3 303.8 L397.7 303.9 L399.4 304.1 L401.0 304.2 L402.7 304.4 L404.3 304.6 L405.8 304.7 L407.1 304.9 L408.2 305.1 L409.0 305.3 L409.5 305.6 L409.7 305.8" fill="none" stroke="#4e81c9" stroke-width="5.24" stroke-linecap="round"/>
<path d="M393.8 302.7 L394.9 302.9 L396.2 303.1 L397.7 303.2 L399.3 303.4 L401.0 303.5 L402.7 303.7 L404.3 303.8 L405.8 304.0 L407.1 304.2 L408.1 304.4" fill="none" stroke="#8baddb" stroke-width="1.57" stroke-linecap="round" opacity="0.8"/>
<path d="M393.1 311.7 L393.3 311.9 L393.8 312.2 L394.6 312.4 L395.7 312.6 L397.0 312.8 L398.5 312.9 L400.1 313.1 L401.8 313.2 L403.4 313.4 L405.0 313.6 L406.5 313.7 L407.8 313.9 L408.9 314.1 L409.7 314.3 L410.2 314.6 L410.4 314.8" fill="none" stroke="#588cc9" stroke-width="5.24" stroke-linecap="round"/>
<path d="M394.5 311.7 L395.6 311.9 L396.9 312.1 L398.4 312.2 L400.0 312.4 L401.7 312.5 L403.4 312.7 L405.0 312.8 L406.5 313.0 L407.8 313.2 L408.8 313.4" fill="none" stroke="#92b4db" stroke-width="1.57" stroke-linecap="round" opacity="0.8"/>
<path d="M393.8 320.7 L394.0 320.9 L394.5 321.2 L395.3 321.4 L396.4 321.6 L397.7 321.8 L399.2 321.9 L400.8 322.1 L402.5 322.2 L404.1 322.4 L405.8 322.6 L407.2 322.7 L408.5 322.9 L409.6 323.1 L410.4 323.3 L410.9 323.6 L411.1 323.8" fill="none" stroke="#6297c8" stroke-width="5.24" stroke-linecap="round"/>
<path d="M395.3 320.7 L396.3 320.9 L397.6 321.1 L399.1 321.2 L400.7 321.4 L402.4 321.5 L404.1 321.7 L405.7 321.8 L407.2 322.0 L408.5 322.2 L409.6 322.4" fill="none" stroke="#98bbdb" stroke-width="1.57" stroke-linecap="round" opacity="0.8"/>
<path d="M444.9 251.1 L445.0 251.4 L445.0 251.8 L444.9 252.3 L444.7 253.0 L444.3 253.7 L443.9 254.5 L443.4 255.4 L442.9 256.2 L442.4 257.1 L441.9 258.0 L441.4 258.8 L441.1 259.5 L440.8 260.2 L440.7 260.7 L440.7 261.1 L440.8 261.4" fill="none" stroke="#7a7418" stroke-width="4.01" stroke-linecap="round"/>
<path d="M451.4 258.1 L451.5 258.4 L451.5 258.8 L451.4 259.3 L451.2 260.0 L450.8 260.7 L450.4 261.5 L449.9 262.4 L449.4 263.2 L448.9 264.1 L448.4 265.0 L447.9 265.8 L447.6 266.5 L447.3 267.2 L447.2 267.7 L447.2 268.1 L447.3 268.4" fill="none" stroke="#7a7418" stroke-width="4.01" stroke-linecap="round"/>
<path d="M434.3 254.4 L434.6 254.6 L435.0 254.6 L435.6 254.5 L436.2 254.3 L437.0 254.0 L437.8 253.6 L438.7 253.2 L439.6 252.8 L440.5 252.3 L441.4 251.9 L442.3 251.5 L443.0 251.2 L443.7 251.0 L444.2 250.9 L444.6 250.9 L444.9 251.1" fill="none" stroke="#b4b030" stroke-width="5.54" stroke-linecap="round"/>
<path d="M435.0 253.9 L435.7 253.7 L436.5 253.4 L437.3 253.1 L438.2 252.6 L439.1 252.2 L440.0 251.7 L440.9 251.3 L441.7 251.0 L442.5 250.7 L443.2 250.5" fill="none" stroke="#cecb78" stroke-width="1.66" stroke-linecap="round" opacity="0.8"/>
<path d="M440.8 261.4 L441.1 261.6 L441.5 261.6 L442.1 261.5 L442.7 261.3 L443.5 261.0 L444.3 260.6 L445.2 260.2 L446.1 259.8 L447.0 259.3 L447.9 258.9 L448.8 258.5 L449.5 258.2 L450.2 258.0 L450.7 257.9 L451.1 257.9 L451.4 258.1" fill="none" stroke="#b4b030" stroke-width="5.54" stroke-linecap="round"/>
<path d="M441.5 260.9 L442.2 260.7 L443.0 260.4 L443.8 260.1 L444.7 259.6 L445.6 259.2 L446.5 258.7 L447.4 258.3 L448.2 258.0 L449.0 257.7 L449.7 257.5" fill="none" stroke="#cecb78" stroke-width="1.66" stroke-linecap="round" opacity="0.8"/>
<path d="M412.9 231.0 L413.1 231.2 L413.2 231.6 L413.2 232.1 L413.2 232.7 L413.1 233.4 L413.0 234.2 L412.8 235.1 L412.6 236.0 L412.4 236.9 L412.3 237.8 L412.2 238.6 L412.1 239.3 L412.0 239.9 L412.1 240.4 L412.2 240.8 L412.4 241.0" fill="none" stroke="#b09a18" stroke-width="3.57" stroke-linecap="round"/>
<path d="M420.4 235.0 L420.6 235.2 L420.7 235.6 L420.7 236.1 L420.7 236.7 L420.6 237.4 L420.5 238.2 L420.3 239.1 L420.1 240.0 L419.9 240.9 L419.8 241.8 L419.7 242.6 L419.6 243.3 L419.5 243.9 L419.6 244.4 L419.7 244.8 L419.9 245.0" fill="none" stroke="#b09a18" stroke-width="3.57" stroke-linecap="round"/>
<path d="M404.9 237.0 L405.2 237.0 L405.5 236.9 L405.9 236.7 L406.4 236.3 L407.0 235.8 L407.6 235.3 L408.2 234.6 L408.9 234.0 L409.5 233.4 L410.2 232.7 L410.8 232.2 L411.3 231.7 L411.8 231.3 L412.2 231.1 L412.6 231.0 L412.9 231.0" fill="none" stroke="#e0c83a" stroke-width="4.93" stroke-linecap="round"/>
<path d="M405.3 236.4 L405.8 236.0 L406.4 235.5 L407.0 234.9 L407.6 234.3 L408.3 233.7 L408.9 233.0 L409.6 232.4 L410.2 231.8 L410.7 231.4 L411.2 231.0" fill="none" stroke="#eadb7e" stroke-width="1.48" stroke-linecap="round" opacity="0.8"/>
<path d="M412.4 241.0 L412.7 241.0 L413.0 240.9 L413.4 240.7 L413.9 240.3 L414.5 239.8 L415.1 239.3 L415.7 238.6 L416.4 238.0 L417.0 237.4 L417.7 236.7 L418.3 236.2 L418.8 235.7 L419.3 235.3 L419.7 235.1 L420.1 235.0 L420.4 235.0" fill="none" stroke="#e0c83a" stroke-width="4.93" stroke-linecap="round"/>
<path d="M412.8 240.4 L413.3 240.0 L413.9 239.5 L414.5 238.9 L415.1 238.3 L415.8 237.7 L416.4 237.0 L417.1 236.4 L417.7 235.8 L418.2 235.4 L418.7 235.0" fill="none" stroke="#eadb7e" stroke-width="1.48" stroke-linecap="round" opacity="0.8"/>
<path d="M428.3 227.0 L428.5 227.2 L428.6 227.4 L428.7 227.8 L428.7 228.3 L428.7 228.8 L428.6 229.5 L428.6 230.2 L428.5 230.9 L428.4 231.6 L428.4 232.3 L428.3 232.9 L428.3 233.5 L428.3 234.0 L428.4 234.3 L428.5 234.6 L428.7 234.7" fill="none" stroke="#a89010" stroke-width="2.73" stroke-linecap="round"/>
<path d="M434.3 229.5 L434.5 229.7 L434.6 229.9 L434.7 230.3 L434.7 230.8 L434.7 231.3 L434.6 232.0 L434.6 232.7 L434.5 233.4 L434.4 234.1 L434.4 234.8 L434.3 235.4 L434.3 236.0 L434.3 236.5 L434.4 236.8 L434.5 237.1 L434.7 237.2" fill="none" stroke="#a89010" stroke-width="2.73" stroke-linecap="round"/>
<path d="M422.7 232.2 L422.9 232.2 L423.1 232.1 L423.4 231.9 L423.8 231.6 L424.2 231.2 L424.6 230.7 L425.0 230.2 L425.5 229.6 L426.0 229.1 L426.4 228.5 L426.8 228.1 L427.2 227.7 L427.6 227.3 L427.9 227.1 L428.1 227.0 L428.3 227.0" fill="none" stroke="#d8c030" stroke-width="3.77" stroke-linecap="round"/>
<path d="M423.0 231.7 L423.3 231.4 L423.7 231.0 L424.1 230.5 L424.6 230.0 L425.0 229.4 L425.5 228.9 L425.9 228.3 L426.3 227.9 L426.7 227.5 L427.1 227.1" fill="none" stroke="#e5d678" stroke-width="1.13" stroke-linecap="round" opacity="0.8"/>
<path d="M428.7 234.7 L428.9 234.7 L429.1 234.6 L429.4 234.4 L429.8 234.1 L430.2 233.7 L430.6 233.2 L431.0 232.7 L431.5 232.1 L432.0 231.6 L432.4 231.0 L432.8 230.6 L433.2 230.2 L433.6 229.8 L433.9 229.6 L434.1 229.5 L434.3 229.5" fill="none" stroke="#d8c030" stroke-width="3.77" stroke-linecap="round"/>
<path d="M429.0 234.2 L429.3 233.9 L429.7 233.5 L430.1 233.0 L430.6 232.5 L431.0 231.9 L431.5 231.4 L431.9 230.8 L432.3 230.4 L432.7 230.0 L433.1 229.6" fill="none" stroke="#e5d678" stroke-width="1.13" stroke-linecap="round" opacity="0.8"/>
<path d="M397.2 244.1 L400.3 245.0 L401.7 242.2 L404.3 243.9 L401.6 242.4" fill="none" stroke="#1f2ee0" stroke-width="1.6" stroke-linecap="round" stroke-linejoin="round"/>
<path d="M394.3 242.8 L397.2 244.2 L399.9 245.9 L397.0 247.3" fill="none" stroke="#1f2ee0" stroke-width="1.6" stroke-linecap="round" stroke-linejoin="round"/>
<path d="M391.8 245.5 L389.1 243.9 L392.0 245.1 L389.3 243.5 L392.3 244.5" fill="none" stroke="#1f2ee0" stroke-width="1.6" stroke-linecap="round" stroke-linejoin="round"/>
<line x1="392.3" y1="244.5" x2="390.8" y2="244.0" stroke="#1a28d8" stroke-width="1.6" stroke-linecap="round"/>
<path d="M396.3 244.0 L393.4 242.6 L390.5 241.4" fill="none" stroke="#1f2ee0" stroke-width="1.6" stroke-linecap="round" stroke-linejoin="round"/>
<path d="M391.3 252.4 L389.1 254.7 L386.0 253.8" fill="none" stroke="#1f2ee0" stroke-width="1.6" stroke-linecap="round" stroke-linejoin="round"/>
<line x1="386.0" y1="253.8" x2="387.5" y2="254.2" stroke="#1a28d8" stroke-width="1.6" stroke-linecap="round"/>
<path d="M405.2 250.9 L402.3 252.3 L401.1 255.3 L398.3 253.6 L395.3 254.6" fill="none" stroke="#1f2ee0" stroke-width="1.6" stroke-linecap="round" stroke-linejoin="round"/>
<line x1="395.3" y1="254.6" x2="396.8" y2="254.1" stroke="#1a28d8" stroke-width="1.6" stroke-linecap="round"/>
<path d="M407.4 245.9 L406.4 249.0 L403.2 249.1 L401.4 251.7 L398.4 252.7" fill="none" stroke="#1f2ee0" stroke-width="1.6" stroke-linecap="round" stroke-linejoin="round"/>
<path d="M390.5 251.2 L390.6 248.0 L392.5 250.7" fill="none" stroke="#1f2ee0" stroke-width="1.6" stroke-linecap="round" stroke-linejoin="round"/>
<line x1="392.5" y1="250.7" x2="391.5" y2="249.3" stroke="#1a28d8" stroke-width="1.6" stroke-linecap="round"/>
<path d="M414.5 242.6 L411.6 241.2 L413.9 239.0 L412.6 241.9 L411.5 238.9" fill="none" stroke="#1f2ee0" stroke-width="1.6" stroke-linecap="round" stroke-linejoin="round"/>
<line x1="411.5" y1="238.9" x2="412.1" y2="240.4" stroke="#e02030" stroke-width="1.6" stroke-linecap="round"/>
<path d="M390.4 243.0 L387.2 243.5 L385.6 240.7 L388.5 241.9" fill="none" stroke="#1f2ee0" stroke-width="1.6" stroke-linecap="round" stroke-linejoin="round"/>
<path d="M406.0 260.8 L405.3 263.9 L402.9 266.0 L401.3 263.2" fill="none" stroke="#1f2ee0" stroke-width="1.6" stroke-linecap="round" stroke-linejoin="round"/>
<line x1="401.3" y1="263.2" x2="402.1" y2="264.6" stroke="#e02030" stroke-width="1.6" stroke-linecap="round"/>
<path d="M398.1 253.2 L401.1 254.4 L401.4 251.2 L403.6 253.5" fill="none" stroke="#1f2ee0" stroke-width="1.6" stroke-linecap="round" stroke-linejoin="round"/>
<line x1="403.6" y1="253.5" x2="402.5" y2="252.3" stroke="#e02030" stroke-width="1.6" stroke-linecap="round"/>
<path d="M413.3 250.9 L410.2 251.9 L407.2 251.0" fill="none" stroke="#1f2ee0" stroke-width="1.6" stroke-linecap="round" stroke-linejoin="round"/>
<path d="M410.6 258.2 L409.8 255.1 L412.9 254.9 L411.6 251.9" fill="none" stroke="#1f2ee0" stroke-width="1.6" stroke-linecap="round" stroke-linejoin="round"/>
<line x1="411.6" y1="251.9" x2="412.3" y2="253.4" stroke="#1a28d8" stroke-width="1.6" stroke-linecap="round"/>
<path d="M392.6 244.6 L390.8 241.9 L394.0 242.1" fill="none" stroke="#1f2ee0" stroke-width="1.6" stroke-linecap="round" stroke-linejoin="round"/>
<path d="M393.4 246.7 L390.6 248.2 L388.4 250.6" fill="none" stroke="#1f2ee0" stroke-width="1.6" stroke-linecap="round" stroke-linejoin="round"/>
<line x1="388.4" y1="250.6" x2="389.5" y2="249.4" stroke="#1a28d8" stroke-width="1.6" stroke-linecap="round"/>
<path d="M407.1 251.3 L405.3 248.7 L405.1 245.5 L402.1 246.3 L404.3 244.0" fill="none" stroke="#1f2ee0" stroke-width="1.6" stroke-linecap="round" stroke-linejoin="round"/>
<path d="M406.9 252.2 L404.3 254.1 L406.8 256.0 L404.7 253.6" fill="none" stroke="#1f2ee0" stroke-width="1.6" stroke-linecap="round" stroke-linejoin="round"/>
<line x1="404.7" y1="253.6" x2="405.8" y2="254.8" stroke="#1a28d8" stroke-width="1.6" stroke-linecap="round"/>
<path d="M415.1 249.8 L413.4 252.5 L416.4 253.6" fill="none" stroke="#1f2ee0" stroke-width="1.6" stroke-linecap="round" stroke-linejoin="round"/>
<line x1="416.4" y1="253.6" x2="414.9" y2="253.0" stroke="#1a28d8" stroke-width="1.6" stroke-linecap="round"/>
<path d="M403.0 259.9 L406.1 260.4 L408.4 258.1 L406.0 256.0 L407.9 258.6" fill="none" stroke="#1f2ee0" stroke-width="1.6" stroke-linecap="round" stroke-linejoin="round"/>
<line x1="407.9" y1="258.6" x2="406.9" y2="257.3" stroke="#e02030" stroke-width="1.6" stroke-linecap="round"/>
<path d="M404.8 250.5 L406.6 247.9 L409.8 247.7" fill="none" stroke="#1f2ee0" stroke-width="1.6" stroke-linecap="round" stroke-linejoin="round"/>
<line x1="409.8" y1="247.7" x2="408.2" y2="247.8" stroke="#e02030" stroke-width="1.6" stroke-linecap="round"/>
<path d="M396.9 244.0 L395.2 246.6 L394.9 249.8 L396.4 247.0 L398.1 249.7" fill="none" stroke="#1f2ee0" stroke-width="1.6" stroke-linecap="round" stroke-linejoin="round"/>
<line x1="398.1" y1="249.7" x2="397.2" y2="248.4" stroke="#e02030" stroke-width="1.6" stroke-linecap="round"/>
<path d="M392.5 251.9 L392.6 248.7 L391.7 251.7" fill="none" stroke="#1f2ee0" stroke-width="1.6" stroke-linecap="round" stroke-linejoin="round"/>
<path d="M391.0 257.8 L388.8 260.2 L390.4 263.0 L390.8 259.8 L387.7 259.2" fill="none" stroke="#1f2ee0" stroke-width="1.6" stroke-linecap="round" stroke-linejoin="round"/>
<path d="M397.4 245.5 L398.5 242.5 L399.8 239.6" fill="none" stroke="#1f2ee0" stroke-width="1.6" stroke-linecap="round" stroke-linejoin="round"/>
<path d="M394.6 251.3 L394.2 248.2 L397.4 248.0 L398.2 244.9" fill="none" stroke="#1f2ee0" stroke-width="1.6" stroke-linecap="round" stroke-linejoin="round"/>
<line x1="398.2" y1="244.9" x2="397.8" y2="246.4" stroke="#1a28d8" stroke-width="1.6" stroke-linecap="round"/>
<path d="M407.2 260.0 L408.3 257.1 L407.8 253.9 L405.9 256.5" fill="none" stroke="#1f2ee0" stroke-width="1.6" stroke-linecap="round" stroke-linejoin="round"/>
<path d="M390.7 243.1 L391.7 246.1 L392.6 249.2 L390.4 247.0" fill="none" stroke="#1f2ee0" stroke-width="1.6" stroke-linecap="round" stroke-linejoin="round"/>
<path d="M411.2 250.6 L409.4 253.3 L407.4 250.7 L409.0 248.0 L411.4 250.2" fill="none" stroke="#1f2ee0" stroke-width="1.6" stroke-linecap="round" stroke-linejoin="round"/>
<line x1="411.4" y1="250.2" x2="410.2" y2="249.1" stroke="#1a28d8" stroke-width="1.6" stroke-linecap="round"/>
<path d="M401.4 244.6 L399.8 247.4 L400.8 244.4 L404.0 243.8 L401.4 245.8" fill="none" stroke="#1f2ee0" stroke-width="1.6" stroke-linecap="round" stroke-linejoin="round"/>
<line x1="401.4" y1="245.8" x2="402.7" y2="244.8" stroke="#1a28d8" stroke-width="1.6" stroke-linecap="round"/>
<path d="M408.1 244.5 L411.2 245.0 L408.5 243.3" fill="none" stroke="#1f2ee0" stroke-width="1.6" stroke-linecap="round" stroke-linejoin="round"/>
<line x1="408.5" y1="243.3" x2="409.9" y2="244.2" stroke="#1a28d8" stroke-width="1.6" stroke-linecap="round"/>
<path d="M405.0 252.9 L403.3 250.2 L401.4 252.8 L398.3 251.8" fill="none" stroke="#1f2ee0" stroke-width="1.6" stroke-linecap="round" stroke-linejoin="round"/>
<line x1="398.3" y1="251.8" x2="399.8" y2="252.3" stroke="#1a28d8" stroke-width="1.6" stroke-linecap="round"/>
<path d="M410.1 255.5 L406.9 255.0 L409.9 253.7" fill="none" stroke="#1f2ee0" stroke-width="1.6" stroke-linecap="round" stroke-linejoin="round"/>
<line x1="409.9" y1="253.7" x2="408.4" y2="254.3" stroke="#1a28d8" stroke-width="1.6" stroke-linecap="round"/>
<path d="M410.8 245.3 L411.5 248.4 L408.3 248.4 L408.6 245.2" fill="none" stroke="#1f2ee0" stroke-width="1.6" stroke-linecap="round" stroke-linejoin="round"/>
<line x1="408.6" y1="245.2" x2="408.5" y2="246.8" stroke="#e02030" stroke-width="1.6" stroke-linecap="round"/>
<path d="M421.6 237.9 L419.7 240.5 L416.6 241.3 L413.8 239.7 L416.5 237.9" fill="none" stroke="#58d0c8" stroke-width="1.3" stroke-linecap="round" stroke-linejoin="round"/>
<line x1="416.5" y1="237.9" x2="415.1" y2="238.8" stroke="#2233dd" stroke-width="1.3" stroke-linecap="round"/>
<path d="M415.6 249.6 L417.9 247.3 L418.4 244.1" fill="none" stroke="#58d0c8" stroke-width="1.3" stroke-linecap="round" stroke-linejoin="round"/>
<path d="M420.5 240.2 L417.3 240.7 L416.8 237.5" fill="none" stroke="#58d0c8" stroke-width="1.3" stroke-linecap="round" stroke-linejoin="round"/>
<line x1="416.8" y1="237.5" x2="417.1" y2="239.1" stroke="#dd2233" stroke-width="1.3" stroke-linecap="round"/>
<path d="M418.6 249.8 L419.3 246.6 L421.8 248.6 L418.8 247.4" fill="none" stroke="#58d0c8" stroke-width="1.3" stroke-linecap="round" stroke-linejoin="round"/>
<line x1="418.8" y1="247.4" x2="420.3" y2="248.0" stroke="#dd2233" stroke-width="1.3" stroke-linecap="round"/>
<path d="M405.9 238.9 L403.0 237.7 L403.2 234.5 L405.9 232.8" fill="none" stroke="#58d0c8" stroke-width="1.3" stroke-linecap="round" stroke-linejoin="round"/>
<line x1="405.9" y1="232.8" x2="404.5" y2="233.6" stroke="#2233dd" stroke-width="1.3" stroke-linecap="round"/>
<path d="M418.8 247.8 L419.9 244.8 L416.7 244.6 L416.8 247.8 L413.6 247.4" fill="none" stroke="#58d0c8" stroke-width="1.3" stroke-linecap="round" stroke-linejoin="round"/>
<path d="M423.5 259.7 L425.2 257.0 L427.3 259.4" fill="none" stroke="#58d0c8" stroke-width="1.3" stroke-linecap="round" stroke-linejoin="round"/>
<line x1="427.3" y1="259.4" x2="426.2" y2="258.2" stroke="#dd2233" stroke-width="1.3" stroke-linecap="round"/>
<path d="M411.4 253.3 L414.2 254.7 L412.7 251.9 L413.4 248.8" fill="none" stroke="#58d0c8" stroke-width="1.3" stroke-linecap="round" stroke-linejoin="round"/>
<path d="M408.2 254.4 L406.0 256.8 L406.0 260.0 L408.0 262.5 L404.9 263.1" fill="none" stroke="#58d0c8" stroke-width="1.3" stroke-linecap="round" stroke-linejoin="round"/>
<path d="M407.0 258.7 L410.2 258.5 L411.7 255.7" fill="none" stroke="#58d0c8" stroke-width="1.3" stroke-linecap="round" stroke-linejoin="round"/>
<line x1="411.7" y1="255.7" x2="410.9" y2="257.1" stroke="#dd2233" stroke-width="1.3" stroke-linecap="round"/>
<path d="M424.8 246.6 L425.9 249.6 L424.5 252.5 L424.0 249.3" fill="none" stroke="#58d0c8" stroke-width="1.3" stroke-linecap="round" stroke-linejoin="round"/>
<line x1="424.0" y1="249.3" x2="424.2" y2="250.9" stroke="#dd2233" stroke-width="1.3" stroke-linecap="round"/>
<path d="M413.8 236.9 L410.6 236.5 L409.7 239.6 L412.8 238.8" fill="none" stroke="#58d0c8" stroke-width="1.3" stroke-linecap="round" stroke-linejoin="round"/>
<line x1="412.8" y1="238.8" x2="411.3" y2="239.2" stroke="#2233dd" stroke-width="1.3" stroke-linecap="round"/>
<path d="M424.3 239.0 L423.9 242.2 L426.6 240.4 L427.9 243.3" fill="none" stroke="#58d0c8" stroke-width="1.3" stroke-linecap="round" stroke-linejoin="round"/>
<path d="M421.3 257.8 L422.7 254.9 L422.5 258.1 L424.4 260.7 L427.2 259.1" fill="none" stroke="#58d0c8" stroke-width="1.3" stroke-linecap="round" stroke-linejoin="round"/>
<line x1="427.2" y1="259.1" x2="425.8" y2="259.9" stroke="#dd2233" stroke-width="1.3" stroke-linecap="round"/>
<path d="M406.9 237.8 L408.2 240.8 L410.7 238.8 L410.3 242.0 L413.5 242.3" fill="none" stroke="#58d0c8" stroke-width="1.3" stroke-linecap="round" stroke-linejoin="round"/>
<line x1="413.5" y1="242.3" x2="411.9" y2="242.2" stroke="#dd2233" stroke-width="1.3" stroke-linecap="round"/>
<path d="M406.8 258.0 L406.5 261.2 L408.8 263.4" fill="none" stroke="#58d0c8" stroke-width="1.3" stroke-linecap="round" stroke-linejoin="round"/>
<line x1="408.8" y1="263.4" x2="407.6" y2="262.3" stroke="#dd2233" stroke-width="1.3" stroke-linecap="round"/>
<path d="M423.4 243.2 L426.5 244.0 L425.7 240.9" fill="none" stroke="#58d0c8" stroke-width="1.3" stroke-linecap="round" stroke-linejoin="round"/>
<path d="M424.3 243.0 L425.2 246.1 L424.0 249.0" fill="none" stroke="#58d0c8" stroke-width="1.3" stroke-linecap="round" stroke-linejoin="round"/>
<line x1="424.0" y1="249.0" x2="424.6" y2="247.5" stroke="#2233dd" stroke-width="1.3" stroke-linecap="round"/>
<path d="M410.8 249.0 L410.4 252.2 L411.5 249.2" fill="none" stroke="#58d0c8" stroke-width="1.3" stroke-linecap="round" stroke-linejoin="round"/>
<path d="M405.8 236.9 L402.8 235.9 L404.0 238.8 L400.8 239.3 L403.8 238.1" fill="none" stroke="#58d0c8" stroke-width="1.3" stroke-linecap="round" stroke-linejoin="round"/>
<line x1="403.8" y1="238.1" x2="402.3" y2="238.7" stroke="#dd2233" stroke-width="1.3" stroke-linecap="round"/>
<path d="M442.8 239.0 L446.0 238.4 L444.8 241.4 L445.5 244.5" fill="none" stroke="#5cc848" stroke-width="1.1" stroke-linecap="round" stroke-linejoin="round"/>
<line x1="445.5" y1="244.5" x2="445.2" y2="243.0" stroke="#2233dd" stroke-width="1.1" stroke-linecap="round"/>
<path d="M446.0 242.5 L448.0 244.9 L451.2 244.7 L454.4 244.4 L456.1 241.6" fill="none" stroke="#5cc848" stroke-width="1.1" stroke-linecap="round" stroke-linejoin="round"/>
<line x1="456.1" y1="241.6" x2="455.2" y2="243.0" stroke="#dd2233" stroke-width="1.1" stroke-linecap="round"/>
<path d="M438.8 228.4 L440.5 225.7 L442.7 223.4 L441.2 220.6 L440.5 223.7" fill="none" stroke="#5cc848" stroke-width="1.1" stroke-linecap="round" stroke-linejoin="round"/>
<line x1="440.5" y1="223.7" x2="440.8" y2="222.1" stroke="#dd2233" stroke-width="1.1" stroke-linecap="round"/>
<path d="M431.8 231.2 L428.8 232.3 L428.5 235.5 L431.6 234.7" fill="none" stroke="#5cc848" stroke-width="1.1" stroke-linecap="round" stroke-linejoin="round"/>
<path d="M440.8 232.5 L441.5 235.6 L442.8 238.5 L441.2 241.3" fill="none" stroke="#5cc848" stroke-width="1.1" stroke-linecap="round" stroke-linejoin="round"/>
<line x1="441.2" y1="241.3" x2="442.0" y2="239.9" stroke="#dd2233" stroke-width="1.1" stroke-linecap="round"/>
<path d="M440.0 231.5 L440.6 228.4 L443.3 230.1 L444.6 227.2 L446.6 229.7" fill="none" stroke="#5cc848" stroke-width="1.1" stroke-linecap="round" stroke-linejoin="round"/>
<line x1="446.6" y1="229.7" x2="445.6" y2="228.5" stroke="#dd2233" stroke-width="1.1" stroke-linecap="round"/>
<path d="M431.4 233.8 L434.2 235.4 L437.3 234.5" fill="none" stroke="#5cc848" stroke-width="1.1" stroke-linecap="round" stroke-linejoin="round"/>
<path d="M433.8 246.5 L431.3 248.5 L429.9 251.4 L433.0 251.1 L434.9 253.6" fill="none" stroke="#5cc848" stroke-width="1.1" stroke-linecap="round" stroke-linejoin="round"/>
<path d="M442.6 228.1 L445.1 226.1 L442.8 223.8 L442.5 220.7 L443.7 217.7" fill="none" stroke="#5cc848" stroke-width="1.1" stroke-linecap="round" stroke-linejoin="round"/>
<line x1="443.7" y1="217.7" x2="443.1" y2="219.2" stroke="#2233dd" stroke-width="1.1" stroke-linecap="round"/>
<path d="M445.9 239.8 L444.6 236.9 L443.5 233.9 L443.9 237.1 L447.0 237.7" fill="none" stroke="#5cc848" stroke-width="1.1" stroke-linecap="round" stroke-linejoin="round"/>
<line x1="447.0" y1="237.7" x2="445.4" y2="237.4" stroke="#dd2233" stroke-width="1.1" stroke-linecap="round"/>
<path d="M448.3 235.3 L445.3 234.2 L443.1 231.9 L440.8 229.6" fill="none" stroke="#5cc848" stroke-width="1.1" stroke-linecap="round" stroke-linejoin="round"/>
<path d="M439.8 227.3 L439.8 224.1 L436.6 224.0" fill="none" stroke="#5cc848" stroke-width="1.1" stroke-linecap="round" stroke-linejoin="round"/>
<line x1="436.6" y1="224.0" x2="438.2" y2="224.0" stroke="#2233dd" stroke-width="1.1" stroke-linecap="round"/>
<path d="M444.4 237.4 L446.2 234.8 L446.5 238.0" fill="none" stroke="#5cc848" stroke-width="1.1" stroke-linecap="round" stroke-linejoin="round"/>
<path d="M435.2 241.2 L432.0 241.4 L429.6 243.5 L426.4 243.9" fill="none" stroke="#5cc848" stroke-width="1.1" stroke-linecap="round" stroke-linejoin="round"/>
<path d="M446.2 232.4 L447.3 235.4 L444.7 233.5 L443.1 236.3 L441.2 233.7" fill="none" stroke="#5cc848" stroke-width="1.35" stroke-linecap="round" stroke-linejoin="round"/>
<path d="M442.8 218.4 L445.8 219.6 L445.4 222.8 L443.9 220.0" fill="none" stroke="#5cc848" stroke-width="1.35" stroke-linecap="round" stroke-linejoin="round"/>
<path d="M444.1 223.0 L443.4 226.1 L440.3 226.8 L440.6 223.6 L443.8 223.5" fill="none" stroke="#5cc848" stroke-width="1.35" stroke-linecap="round" stroke-linejoin="round"/>
<line x1="443.8" y1="223.5" x2="442.2" y2="223.5" stroke="#dd2233" stroke-width="1.35" stroke-linecap="round"/>
<path d="M451.2 241.6 L450.4 244.7 L453.2 246.1" fill="none" stroke="#5cc848" stroke-width="1.35" stroke-linecap="round" stroke-linejoin="round"/>
<line x1="453.2" y1="246.1" x2="451.8" y2="245.4" stroke="#dd2233" stroke-width="1.35" stroke-linecap="round"/>
<path d="M451.6 225.7 L454.4 227.2 L457.1 228.9" fill="none" stroke="#5cc848" stroke-width="1.35" stroke-linecap="round" stroke-linejoin="round"/>
<path d="M434.4 225.0 L435.8 222.1 L432.6 221.9 L435.0 219.8 L434.1 216.7" fill="none" stroke="#5cc848" stroke-width="1.35" stroke-linecap="round" stroke-linejoin="round"/>
<line x1="434.1" y1="216.7" x2="434.6" y2="218.3" stroke="#dd2233" stroke-width="1.35" stroke-linecap="round"/>
<path d="M437.5 219.2 L436.2 216.3 L433.5 218.1 L433.1 214.9" fill="none" stroke="#5cc848" stroke-width="1.35" stroke-linecap="round" stroke-linejoin="round"/>
<line x1="433.1" y1="214.9" x2="433.3" y2="216.5" stroke="#dd2233" stroke-width="1.35" stroke-linecap="round"/>
<path d="M435.7 238.8 L434.3 241.7 L432.6 244.4" fill="none" stroke="#5cc848" stroke-width="1.35" stroke-linecap="round" stroke-linejoin="round"/>
<line x1="432.6" y1="244.4" x2="433.4" y2="243.0" stroke="#2233dd" stroke-width="1.35" stroke-linecap="round"/>
<path d="M445.0 240.6 L444.9 243.8 L447.9 245.0 L445.4 247.1" fill="none" stroke="#5cc848" stroke-width="1.35" stroke-linecap="round" stroke-linejoin="round"/>
<path d="M430.1 241.3 L432.0 238.7 L431.4 241.9 L434.5 242.9" fill="none" stroke="#5cc848" stroke-width="1.35" stroke-linecap="round" stroke-linejoin="round"/>
<path d="M443.2 218.9 L440.2 220.1 L438.9 223.1 L439.4 219.9" fill="none" stroke="#5cc848" stroke-width="1.35" stroke-linecap="round" stroke-linejoin="round"/>
<path d="M438.3 215.4 L435.7 217.3 L438.0 215.1 L435.0 214.0 L435.9 217.1" fill="none" stroke="#5cc848" stroke-width="1.35" stroke-linecap="round" stroke-linejoin="round"/>
<line x1="435.9" y1="217.1" x2="435.4" y2="215.5" stroke="#dd2233" stroke-width="1.35" stroke-linecap="round"/>
<path d="M438.9 236.3 L441.0 233.9 L437.8 234.2 L440.6 232.5 L437.5 231.6" fill="none" stroke="#5cc848" stroke-width="1.35" stroke-linecap="round" stroke-linejoin="round"/>
<line x1="437.5" y1="231.6" x2="439.0" y2="232.0" stroke="#dd2233" stroke-width="1.35" stroke-linecap="round"/>
<path d="M436.3 223.2 L436.1 220.0 L434.3 217.4 L431.6 219.1 L431.8 222.3" fill="none" stroke="#5cc848" stroke-width="1.35" stroke-linecap="round" stroke-linejoin="round"/>
<line x1="431.8" y1="222.3" x2="431.7" y2="220.7" stroke="#dd2233" stroke-width="1.35" stroke-linecap="round"/>
<path d="M431.1 233.1 L431.9 236.2 L434.6 234.4" fill="none" stroke="#5cc848" stroke-width="1.35" stroke-linecap="round" stroke-linejoin="round"/>
<line x1="434.6" y1="234.4" x2="433.3" y2="235.3" stroke="#2233dd" stroke-width="1.35" stroke-linecap="round"/>
<path d="M438.9 224.2 L436.0 225.6 L433.0 224.6 L433.1 227.8" fill="none" stroke="#5cc848" stroke-width="1.35" stroke-linecap="round" stroke-linejoin="round"/>
<line x1="433.1" y1="227.8" x2="433.0" y2="226.2" stroke="#2233dd" stroke-width="1.35" stroke-linecap="round"/>
<path d="M437.0 209.6 L437.5 213.0 L438.0 217.0 L439.0 220.0" fill="none" stroke="#6cc840" stroke-width="1.75" stroke-linecap="round" stroke-linejoin="round"/>
<circle cx="437" cy="209.6" r="1.0" fill="#2233dd"/>
<path d="M433.0 236.0 L441.0 230.0 L449.2 225.2 L455.4 222.9 L463.0 221.4 L470.8 217.5 L476.9 216.0 L484.6 214.5 L492.3 216.0 L498.5 217.5 L504.6 214.5 L510.8 212.9" fill="none" stroke="#d8c428" stroke-width="2.0" stroke-linecap="round" stroke-linejoin="round"/>
<path d="M470.8 217.5 L476.9 216.0 L484.6 214.5 L492.3 216.0" fill="none" stroke="#e0822a" stroke-width="2.0" stroke-linecap="round" stroke-linejoin="round"/>
<path d="M492.3 216.0 L498.5 217.5 L504.6 214.5 L510.8 212.9" fill="none" stroke="#d42a1a" stroke-width="2.0" stroke-linecap="round" stroke-linejoin="round"/>
<path d="M433.0 236.0 L441.0 230.0 L449.2 225.2" fill="none" stroke="#6cc840" stroke-width="2.0" stroke-linecap="round" stroke-linejoin="round"/>
<path d="M456.2 202.9 L456.9 206.8 L457.7 210.6 L457.2 214.5 L458.5 219.1 L460.0 222.9" fill="none" stroke="#d8c428" stroke-width="1.75" stroke-linecap="round" stroke-linejoin="round"/>
<path d="M455.4 226.8 L458.5 223.7 L461.5 222.9 L463.8 225.2 L465.4 228.3 L466.9 230.6" fill="none" stroke="#d8c428" stroke-width="1.75" stroke-linecap="round" stroke-linejoin="round"/>
<path d="M466.9 210.6 L468.5 212.9 L467.7 217.5 L466.2 220.6 L464.6 223.7 L466.9 226.8 L470.0 225.2 L472.3 221.4 L470.8 217.5" fill="none" stroke="#d8c428" stroke-width="1.75" stroke-linecap="round" stroke-linejoin="round"/>
<path d="M447.0 222.0 L449.0 216.0 L452.0 213.0 L451.0 208.0" fill="none" stroke="#d8c428" stroke-width="1.75" stroke-linecap="round" stroke-linejoin="round"/>
<path d="M444.0 238.0 L446.0 243.0 L450.0 246.0" fill="none" stroke="#d8c428" stroke-width="1.75" stroke-linecap="round" stroke-linejoin="round"/>
<path d="M477.7 203.7 L480.0 207.5 L482.3 210.6 L484.6 212.9 L486.2 211.4" fill="none" stroke="#e0822a" stroke-width="1.75" stroke-linecap="round" stroke-linejoin="round"/>
<path d="M474.0 212.0 L477.0 210.0 L480.0 212.0 L479.5 216.0 L476.0 218.0 L473.5 215.5 L474.0 212.0" fill="none" stroke="#e0822a" stroke-width="1.75" stroke-linecap="round" stroke-linejoin="round"/>
<path d="M479.2 220.6 L479.7 225.2 L478.5 229.1 L476.9 232.2 L479.2 233.7" fill="none" stroke="#e0822a" stroke-width="1.75" stroke-linecap="round" stroke-linejoin="round"/>
<path d="M486.2 214.5 L489.2 216.0 L491.5 215.2 L493.0 217.5" fill="none" stroke="#e0822a" stroke-width="1.75" stroke-linecap="round" stroke-linejoin="round"/>
<path d="M483.0 218.0 L486.0 222.0 L489.0 221.0" fill="none" stroke="#e0822a" stroke-width="1.75" stroke-linecap="round" stroke-linejoin="round"/>
<path d="M494.0 216.0 L497.0 213.5 L501.0 213.0 L503.0 216.0 L501.5 220.0 L497.5 220.5 L494.0 216.0" fill="none" stroke="#d42a1a" stroke-width="1.75" stroke-linecap="round" stroke-linejoin="round"/>
<path d="M500.8 222.9 L501.5 226.8 L502.3 230.6 L500.8 234.5 L498.5 237.5" fill="none" stroke="#d42a1a" stroke-width="1.75" stroke-linecap="round" stroke-linejoin="round"/>
<path d="M506.2 225.2 L509.2 226.0 L512.3 224.5" fill="none" stroke="#d42a1a" stroke-width="1.75" stroke-linecap="round" stroke-linejoin="round"/>
<path d="M503.0 220.0 L506.2 225.2" fill="none" stroke="#d42a1a" stroke-width="1.75" stroke-linecap="round" stroke-linejoin="round"/>
<path d="M504.6 211.4 L507.7 210.6 L510.8 209.8 L511.5 206.8 L511.1 203.7" fill="none" stroke="#d42a1a" stroke-width="1.75" stroke-linecap="round" stroke-linejoin="round"/>
<path d="M501.5 208.3 L504.6 208.3 L505.4 211.4 L502.3 212.2 L501.5 208.3" fill="none" stroke="#d42a1a" stroke-width="1.75" stroke-linecap="round" stroke-linejoin="round"/>
<path d="M494.0 212.0 L491.0 208.0 L489.0 210.0" fill="none" stroke="#d42a1a" stroke-width="1.75" stroke-linecap="round" stroke-linejoin="round"/>
<circle cx="456" cy="203.5" r="1.15" fill="#2233dd"/>
<circle cx="458" cy="209" r="1.15" fill="#2233dd"/>
<circle cx="455" cy="219" r="1.15" fill="#dd2244"/>
<circle cx="463" cy="218" r="1.15" fill="#2233dd"/>
<circle cx="469" cy="224" r="1.15" fill="#dd2244"/>
<circle cx="466" cy="214" r="1.15" fill="#2233dd"/>
<circle cx="478" cy="204" r="1.15" fill="#dd2244"/>
<circle cx="481" cy="209" r="1.15" fill="#2233dd"/>
<circle cx="475" cy="214" r="1.15" fill="#2233dd"/>
<circle cx="486" cy="216" r="1.15" fill="#2233dd"/>
<circle cx="478" cy="228" r="1.15" fill="#dd2244"/>
<circle cx="489" cy="221" r="1.15" fill="#dd2244"/>
<circle cx="497" cy="214" r="1.15" fill="#2233dd"/>
<circle cx="500" cy="220" r="1.15" fill="#2233dd"/>
<circle cx="511" cy="203.5" r="1.15" fill="#2233dd"/>
<circle cx="508" cy="210" r="1.15" fill="#2233dd"/>
<circle cx="503" cy="226" r="1.15" fill="#2233dd"/>
<circle cx="499" cy="237" r="1.15" fill="#dd2244"/>
<circle cx="512" cy="224.5" r="1.15" fill="#2233dd"/>
<circle cx="494" cy="212" r="1.15" fill="#2233dd"/>
<circle cx="452" cy="213" r="1.15" fill="#2233dd"/>
<circle cx="445" cy="232" r="1.15" fill="#2233dd"/>
<circle cx="441" cy="227" r="1.15" fill="#dd2244"/>
<circle cx="436" cy="238" r="1.15" fill="#2233dd"/>
<circle cx="449" cy="246" r="1.15" fill="#2233dd"/>
<circle cx="462" cy="230" r="1.15" fill="#2233dd"/>
<circle cx="471" cy="219" r="1.15" fill="#dd2244"/>
</g></g>
<text x="484.80" y="203.80" font-size="8.0" textLength="16.40" lengthAdjust="spacingAndGlyphs">LL37</text>
<text x="430.70" y="299.80" font-size="8.8" textLength="34.00" lengthAdjust="spacingAndGlyphs">FPR2/ALX</text>
</svg>
</body></html>
